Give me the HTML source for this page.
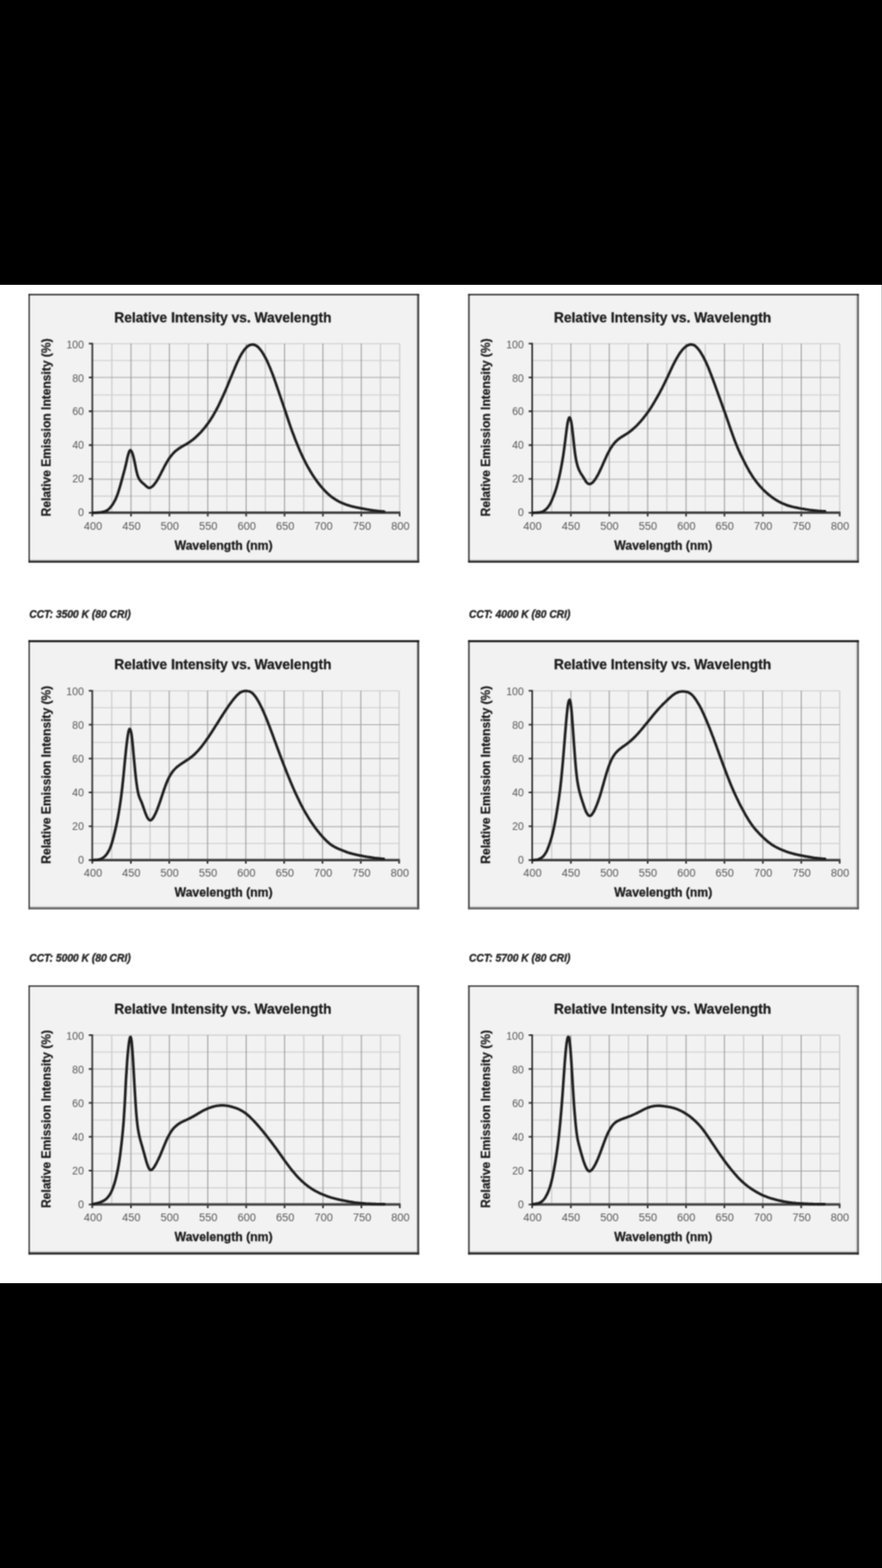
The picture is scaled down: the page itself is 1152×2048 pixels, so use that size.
<!DOCTYPE html>
<html lang="en">
<head>
<meta charset="utf-8">
<title>Relative Intensity vs. Wavelength</title>
<style>
html,body{margin:0;padding:0;background:#000;}
body{width:1152px;height:2048px;position:relative;overflow:hidden;font-family:"Liberation Sans",sans-serif;}
#sheet{position:absolute;left:0;top:372px;width:1152px;height:1304px;background:#fff;overflow:hidden;}
#sheet svg{position:absolute;left:0;top:0;display:block;}
#edge{position:absolute;right:0;top:0;width:1px;height:100%;background:#c8c8c8;}
text{font-family:"Liberation Sans",sans-serif;}
.tk{font-size:14px;fill:#5a5a5a;}
.ti{font-size:18px;font-weight:bold;fill:#1c1c1c;stroke:#1c1c1c;stroke-width:0.35px;}
.ax{font-size:16px;font-weight:bold;fill:#1c1c1c;stroke:#1c1c1c;stroke-width:0.35px;}
.ay{font-size:17.4px;font-weight:bold;fill:#1c1c1c;stroke:#1c1c1c;stroke-width:0.35px;}
.cap{font-size:14px;font-weight:bold;font-style:italic;fill:#262626;stroke:#262626;stroke-width:0.45px;}
</style>
</head>
<body>
<div id="sheet">
<svg width="1152" height="1304" viewBox="0 372 1152 1304">
<defs>
<filter id="soft" x="0" y="372" width="1152" height="1304" filterUnits="userSpaceOnUse" color-interpolation-filters="sRGB"><feConvolveMatrix order="3" kernelMatrix="1 2 1 2 4 2 1 2 1" edgeMode="duplicate" preserveAlpha="false"/></filter>
</defs>
<rect x="0" y="372" width="1152" height="1304" fill="#fff"/>
<g filter="url(#soft)">
<rect x="-5" y="367" width="1162" height="1314" fill="#fff"/>
<g id="chart1">
<rect x="37.20" y="383.90" width="510.15" height="351.05" fill="#f2f2f2"/>
<rect x="543.85" y="383.90" width="1.5" height="351.05" fill="#c6c6c6"/>
<rect x="37.20" y="730.85" width="510.15" height="1.5" fill="#c6c6c6"/>
<rect x="37.30" y="383.90" width="1.7" height="351.05" fill="#303030"/>
<rect x="545.35" y="383.90" width="2.0" height="351.05" fill="#222"/>
<rect x="37.20" y="383.90" width="510.15" height="1.7" fill="#161616"/>
<rect x="37.20" y="732.35" width="510.15" height="2.6" fill="#262626"/>
<path d="M146.06,448.80V669.70M196.19,448.80V669.70M246.31,448.80V669.70M296.44,448.80V669.70M346.56,448.80V669.70M396.69,448.80V669.70M446.81,448.80V669.70M496.94,448.80V669.70M522.00,448.80V669.70" stroke="#c2c2c2" stroke-width="1.2" fill="none"/>
<path d="M120.60,448.80H522.00M120.60,470.89H522.00M120.60,515.97H522.00M120.60,559.55H522.00M120.60,603.43H522.00M120.60,648.01H522.00" stroke="#cecece" stroke-width="1.3" fill="none"/>
<path d="M171.12,448.80V669.70M221.25,448.80V669.70M271.38,448.80V669.70M321.50,448.80V669.70M371.62,448.80V669.70M421.75,448.80V669.70M471.88,448.80V669.70" stroke="#8c8c8c" stroke-width="1.05" fill="none"/>
<path d="M120.60,492.98H522.00M120.60,537.16H522.00M120.60,581.34H522.00M120.60,626.02H522.00" stroke="#9c9c9c" stroke-width="1.1" fill="none"/>
<path d="M120.60,447.80V670.90M116.00,448.80H120.60M116.00,492.98H120.60M116.00,537.16H120.60M116.00,581.34H120.60M116.00,625.52H120.60M116.00,669.70H120.60M120.60,669.70V674.40M171.12,669.70V674.40M221.25,669.70V674.40M271.38,669.70V674.40M321.50,669.70V674.40M371.62,669.70V674.40M421.75,669.70V674.40M471.88,669.70V674.40M522.00,669.70V674.40" stroke="#2a2a2a" stroke-width="2.1" fill="none"/>
<path d="M119.60,669.70H523.00" stroke="#404040" stroke-width="3.2" fill="none"/>
<path d="M121.0,669.7C121.3,669.7 122.0,669.7 122.5,669.7C123.0,669.7 123.5,669.7 124.0,669.6C124.5,669.6 125.0,669.6 125.5,669.6C126.0,669.5 126.5,669.5 127.0,669.5C127.5,669.5 128.0,669.4 128.5,669.4C129.0,669.4 129.5,669.3 130.0,669.3C130.5,669.2 131.0,669.2 131.5,669.1C132.0,669.1 132.5,669.0 133.0,668.9C133.5,668.8 134.0,668.8 134.5,668.7C135.0,668.6 135.5,668.4 136.0,668.3C136.5,668.2 137.0,668.0 137.5,667.8C138.0,667.6 138.5,667.4 139.0,667.1C139.5,666.8 140.0,666.5 140.5,666.2C141.0,665.8 141.6,665.4 142.1,664.9C142.6,664.5 143.1,663.9 143.6,663.4C144.1,662.8 144.6,662.3 145.1,661.6C145.6,661.0 146.1,660.4 146.6,659.6C147.1,658.9 147.6,658.1 148.1,657.3C148.6,656.4 149.1,655.6 149.6,654.6C150.1,653.7 150.6,652.8 151.1,651.7C151.6,650.6 152.1,649.5 152.6,648.2C153.1,646.9 153.6,645.5 154.1,644.0C154.6,642.5 155.1,641.0 155.6,639.3C156.1,637.7 156.6,636.0 157.1,634.3C157.6,632.5 158.1,630.7 158.6,628.8C159.1,627.0 159.6,625.1 160.1,623.3C160.6,621.4 161.1,619.6 161.6,617.7C162.1,615.9 162.6,614.1 163.1,612.1C163.6,610.2 164.1,608.1 164.6,606.0C165.1,603.8 165.6,601.4 166.1,599.2C166.6,597.1 167.1,595.0 167.6,593.3C168.1,591.6 168.6,590.0 169.1,589.1C169.6,588.2 170.1,587.8 170.6,588.0C171.1,588.2 171.6,589.1 172.1,590.1C172.6,591.1 173.1,592.4 173.6,594.1C174.1,595.7 174.6,597.9 175.1,600.0C175.6,602.2 176.1,604.7 176.6,607.2C177.1,609.6 177.6,612.4 178.1,614.6C178.6,616.8 179.1,618.8 179.6,620.5C180.1,622.1 180.6,623.4 181.2,624.5C181.7,625.6 182.2,626.3 182.7,627.1C183.2,627.8 183.7,628.3 184.2,628.8C184.7,629.4 185.2,629.8 185.7,630.3C186.2,630.7 186.7,631.1 187.2,631.6C187.7,632.0 188.2,632.5 188.7,632.9C189.2,633.4 189.7,633.9 190.2,634.4C190.7,634.8 191.2,635.3 191.7,635.7C192.2,636.1 192.7,636.5 193.2,636.7C193.7,637.0 194.2,637.2 194.7,637.2C195.2,637.3 195.7,637.2 196.2,637.0C196.7,636.9 197.2,636.6 197.7,636.3C198.2,636.0 198.7,635.6 199.2,635.1C199.7,634.7 200.2,634.2 200.7,633.6C201.2,633.1 201.7,632.5 202.2,631.8C202.7,631.2 203.2,630.5 203.7,629.7C204.2,629.0 204.7,628.2 205.2,627.4C205.7,626.6 206.2,625.7 206.7,624.8C207.2,623.9 207.7,623.0 208.2,622.1C208.7,621.2 209.2,620.2 209.7,619.3C210.2,618.3 210.7,617.3 211.2,616.3C211.7,615.3 212.2,614.3 212.7,613.4C213.2,612.4 213.7,611.4 214.2,610.4C214.7,609.5 215.2,608.5 215.7,607.6C216.2,606.7 216.7,605.7 217.2,604.9C217.7,604.0 218.2,603.1 218.7,602.3C219.2,601.5 219.7,600.7 220.2,599.9C220.7,599.1 221.2,598.4 221.8,597.7C222.3,597.0 222.8,596.3 223.3,595.6C223.8,595.0 224.3,594.4 224.8,593.8C225.3,593.2 225.8,592.6 226.3,592.1C226.8,591.5 227.3,591.0 227.8,590.6C228.3,590.1 228.8,589.6 229.3,589.2C229.8,588.8 230.3,588.4 230.8,588.0C231.3,587.6 231.8,587.2 232.3,586.8C232.8,586.5 233.3,586.1 233.8,585.8C234.3,585.4 234.8,585.1 235.3,584.8C235.8,584.5 236.3,584.2 236.8,583.8C237.3,583.5 237.8,583.2 238.3,583.0C238.8,582.7 239.3,582.4 239.8,582.1C240.3,581.8 240.8,581.5 241.3,581.2C241.8,581.0 242.3,580.7 242.8,580.4C243.3,580.1 243.8,579.8 244.3,579.5C244.8,579.2 245.3,578.9 245.8,578.6C246.3,578.3 246.8,578.0 247.3,577.6C247.8,577.3 248.3,576.9 248.8,576.6C249.3,576.2 249.8,575.8 250.3,575.5C250.8,575.1 251.3,574.7 251.8,574.3C252.3,573.9 252.8,573.5 253.3,573.1C253.8,572.6 254.3,572.2 254.8,571.8C255.3,571.3 255.8,570.9 256.3,570.4C256.8,570.0 257.3,569.5 257.8,569.0C258.3,568.5 258.8,568.0 259.3,567.5C259.8,567.0 260.3,566.5 260.8,566.0C261.3,565.4 261.9,564.9 262.4,564.4C262.9,563.8 263.4,563.3 263.9,562.7C264.4,562.1 264.9,561.5 265.4,560.9C265.9,560.3 266.4,559.7 266.9,559.1C267.4,558.5 267.9,557.9 268.4,557.2C268.9,556.6 269.4,556.0 269.9,555.3C270.4,554.6 270.9,554.0 271.4,553.3C271.9,552.6 272.4,551.9 272.9,551.2C273.4,550.5 273.9,549.7 274.4,549.0C274.9,548.2 275.4,547.5 275.9,546.7C276.4,545.9 276.9,545.1 277.4,544.3C277.9,543.5 278.4,542.7 278.9,541.8C279.4,541.0 279.9,540.1 280.4,539.2C280.9,538.4 281.4,537.4 281.9,536.5C282.4,535.6 282.9,534.6 283.4,533.7C283.9,532.7 284.4,531.7 284.9,530.7C285.4,529.7 285.9,528.7 286.4,527.7C286.9,526.6 287.4,525.6 287.9,524.5C288.4,523.5 288.9,522.4 289.4,521.3C289.9,520.2 290.4,519.1 290.9,518.0C291.4,516.9 291.9,515.8 292.4,514.7C292.9,513.6 293.4,512.4 293.9,511.3C294.4,510.2 294.9,509.0 295.4,507.8C295.9,506.7 296.4,505.5 296.9,504.3C297.4,503.1 297.9,501.9 298.4,500.7C298.9,499.4 299.4,498.2 299.9,497.0C300.4,495.7 300.9,494.5 301.4,493.3C302.0,492.0 302.5,490.8 303.0,489.6C303.5,488.3 304.0,487.1 304.5,485.9C305.0,484.7 305.5,483.5 306.0,482.3C306.5,481.1 307.0,479.9 307.5,478.7C308.0,477.6 308.5,476.4 309.0,475.3C309.5,474.2 310.0,473.1 310.5,472.0C311.0,470.9 311.5,469.9 312.0,468.9C312.5,467.8 313.0,466.8 313.5,465.9C314.0,464.9 314.5,464.0 315.0,463.2C315.5,462.3 316.0,461.4 316.5,460.7C317.0,459.9 317.5,459.1 318.0,458.4C318.5,457.7 319.0,457.0 319.5,456.4C320.0,455.8 320.5,455.2 321.0,454.7C321.5,454.2 322.0,453.7 322.5,453.2C323.0,452.8 323.5,452.4 324.0,452.0C324.5,451.7 325.0,451.4 325.5,451.1C326.0,450.9 326.5,450.6 327.0,450.5C327.5,450.3 328.0,450.2 328.5,450.1C329.0,450.0 329.5,450.0 330.0,450.0C330.5,450.0 331.0,450.1 331.5,450.2C332.0,450.3 332.5,450.4 333.0,450.6C333.5,450.8 334.0,451.1 334.5,451.4C335.0,451.7 335.5,452.0 336.0,452.4C336.5,452.8 337.0,453.3 337.5,453.8C338.0,454.3 338.5,454.8 339.0,455.4C339.5,456.0 340.0,456.6 340.5,457.3C341.0,458.0 341.5,458.7 342.1,459.4C342.6,460.2 343.1,461.0 343.6,461.8C344.1,462.6 344.6,463.5 345.1,464.4C345.6,465.3 346.1,466.2 346.6,467.2C347.1,468.1 347.6,469.1 348.1,470.1C348.6,471.1 349.1,472.2 349.6,473.3C350.1,474.3 350.6,475.4 351.1,476.6C351.6,477.7 352.1,478.9 352.6,480.1C353.1,481.3 353.6,482.5 354.1,483.8C354.6,485.0 355.1,486.3 355.6,487.7C356.1,489.0 356.6,490.3 357.1,491.7C357.6,493.1 358.1,494.5 358.6,495.9C359.1,497.3 359.6,498.8 360.1,500.2C360.6,501.7 361.1,503.1 361.6,504.6C362.1,506.1 362.6,507.5 363.1,509.0C363.6,510.4 364.1,511.9 364.6,513.4C365.1,514.8 365.6,516.3 366.1,517.7C366.6,519.2 367.1,520.7 367.6,522.1C368.1,523.6 368.6,525.1 369.1,526.5C369.6,528.0 370.1,529.5 370.6,531.0C371.1,532.4 371.6,533.9 372.1,535.4C372.6,536.9 373.1,538.4 373.6,539.9C374.1,541.4 374.6,542.9 375.1,544.4C375.6,545.9 376.1,547.4 376.6,548.9C377.1,550.4 377.6,551.9 378.1,553.3C378.6,554.8 379.1,556.2 379.6,557.7C380.1,559.1 380.6,560.6 381.1,562.0C381.6,563.4 382.2,564.7 382.7,566.1C383.2,567.5 383.7,568.8 384.2,570.2C384.7,571.5 385.2,572.8 385.7,574.1C386.2,575.4 386.7,576.7 387.2,577.9C387.7,579.2 388.2,580.4 388.7,581.6C389.2,582.8 389.7,584.0 390.2,585.2C390.7,586.4 391.2,587.5 391.7,588.7C392.2,589.8 392.7,591.0 393.2,592.1C393.7,593.2 394.2,594.3 394.7,595.3C395.2,596.4 395.7,597.5 396.2,598.5C396.7,599.5 397.2,600.6 397.7,601.6C398.2,602.6 398.7,603.5 399.2,604.5C399.7,605.5 400.2,606.4 400.7,607.3C401.2,608.3 401.7,609.2 402.2,610.1C402.7,611.0 403.2,611.9 403.7,612.7C404.2,613.6 404.7,614.5 405.2,615.3C405.7,616.1 406.2,616.9 406.7,617.7C407.2,618.6 407.7,619.3 408.2,620.1C408.7,620.9 409.2,621.7 409.7,622.4C410.2,623.2 410.7,623.9 411.2,624.6C411.7,625.4 412.2,626.1 412.7,626.8C413.2,627.5 413.7,628.2 414.2,628.9C414.7,629.6 415.2,630.2 415.7,630.9C416.2,631.5 416.7,632.2 417.2,632.8C417.7,633.5 418.2,634.1 418.7,634.7C419.2,635.3 419.7,635.9 420.2,636.5C420.7,637.1 421.2,637.7 421.8,638.3C422.3,638.8 422.8,639.4 423.3,639.9C423.8,640.4 424.3,641.0 424.8,641.5C425.3,642.0 425.8,642.5 426.3,643.0C426.8,643.5 427.3,644.0 427.8,644.4C428.3,644.9 428.8,645.4 429.3,645.8C429.8,646.3 430.3,646.7 430.8,647.1C431.3,647.5 431.8,647.9 432.3,648.3C432.8,648.7 433.3,649.1 433.8,649.5C434.3,649.9 434.8,650.2 435.3,650.6C435.8,650.9 436.3,651.2 436.8,651.6C437.3,651.9 437.8,652.2 438.3,652.5C438.8,652.8 439.3,653.1 439.8,653.4C440.3,653.7 440.8,654.0 441.3,654.3C441.8,654.6 442.3,654.8 442.8,655.1C443.3,655.4 443.8,655.6 444.3,655.9C444.8,656.1 445.3,656.3 445.8,656.6C446.3,656.8 446.8,657.0 447.3,657.2C447.8,657.4 448.3,657.6 448.8,657.8C449.3,658.0 449.8,658.2 450.3,658.4C450.8,658.6 451.3,658.8 451.8,659.0C452.3,659.1 452.8,659.3 453.3,659.5C453.8,659.7 454.3,659.8 454.8,660.0C455.3,660.1 455.8,660.3 456.3,660.4C456.8,660.6 457.3,660.7 457.8,660.9C458.3,661.0 458.8,661.1 459.3,661.3C459.8,661.4 460.3,661.5 460.8,661.7C461.3,661.8 461.9,661.9 462.4,662.0C462.9,662.1 463.4,662.3 463.9,662.4C464.4,662.5 464.9,662.6 465.4,662.7C465.9,662.8 466.4,662.9 466.9,663.0C467.4,663.1 467.9,663.2 468.4,663.3C468.9,663.4 469.4,663.5 469.9,663.6C470.4,663.7 470.9,663.8 471.4,663.9C471.9,664.0 472.4,664.1 472.9,664.2C473.4,664.3 473.9,664.3 474.4,664.4C474.9,664.5 475.4,664.6 475.9,664.7C476.4,664.8 476.9,664.9 477.4,665.0C477.9,665.1 478.4,665.2 478.9,665.3C479.4,665.4 479.9,665.5 480.4,665.6C480.9,665.6 481.4,665.7 481.9,665.8C482.4,665.9 482.9,666.0 483.4,666.1C483.9,666.1 484.4,666.2 484.9,666.3C485.4,666.4 485.9,666.4 486.4,666.5C486.9,666.6 487.4,666.6 487.9,666.7C488.4,666.8 488.9,666.9 489.4,666.9C489.9,667.0 490.4,667.0 490.9,667.1C491.4,667.2 491.9,667.2 492.4,667.3C492.9,667.4 493.4,667.4 493.9,667.5C494.4,667.5 494.9,667.6 495.4,667.6C495.9,667.7 496.4,667.7 496.9,667.8C497.4,667.8 497.9,667.9 498.4,667.9C498.9,667.9 499.4,668.0 499.9,668.0C500.4,668.0 501.1,668.1 501.4,668.1C501.8,668.1 501.9,668.1 501.9,668.1" stroke="#1e1e1e" stroke-width="3.45" fill="none" stroke-linejoin="round" stroke-linecap="round"/>
</g>
<g id="chart2">
<rect x="611.50" y="383.90" width="510.20" height="351.05" fill="#f2f2f2"/>
<rect x="1118.20" y="383.90" width="1.5" height="351.05" fill="#c6c6c6"/>
<rect x="611.50" y="730.85" width="510.20" height="1.5" fill="#c6c6c6"/>
<rect x="611.60" y="383.90" width="1.7" height="351.05" fill="#1c1c1c"/>
<rect x="1119.70" y="383.90" width="2.0" height="351.05" fill="#4a4a4a"/>
<rect x="611.50" y="383.90" width="510.20" height="1.7" fill="#161616"/>
<rect x="611.50" y="732.35" width="510.20" height="2.6" fill="#262626"/>
<path d="M720.58,448.80V669.70M770.73,448.80V669.70M820.88,448.80V669.70M871.03,448.80V669.70M921.17,448.80V669.70M971.33,448.80V669.70M1021.48,448.80V669.70M1071.62,448.80V669.70M1096.70,448.80V669.70" stroke="#c2c2c2" stroke-width="1.2" fill="none"/>
<path d="M695.10,448.80H1096.70M695.10,470.89H1096.70M695.10,515.97H1096.70M695.10,559.55H1096.70M695.10,603.43H1096.70M695.10,648.01H1096.70" stroke="#cecece" stroke-width="1.3" fill="none"/>
<path d="M745.65,448.80V669.70M795.80,448.80V669.70M845.95,448.80V669.70M896.10,448.80V669.70M946.25,448.80V669.70M996.40,448.80V669.70M1046.55,448.80V669.70" stroke="#8c8c8c" stroke-width="1.05" fill="none"/>
<path d="M695.10,492.98H1096.70M695.10,537.16H1096.70M695.10,581.34H1096.70M695.10,626.02H1096.70" stroke="#9c9c9c" stroke-width="1.1" fill="none"/>
<path d="M695.10,447.80V670.90M690.50,448.80H695.10M690.50,492.98H695.10M690.50,537.16H695.10M690.50,581.34H695.10M690.50,625.52H695.10M690.50,669.70H695.10M695.10,669.70V674.40M745.65,669.70V674.40M795.80,669.70V674.40M845.95,669.70V674.40M896.10,669.70V674.40M946.25,669.70V674.40M996.40,669.70V674.40M1046.55,669.70V674.40M1096.70,669.70V674.40" stroke="#2a2a2a" stroke-width="2.1" fill="none"/>
<path d="M694.10,669.70H1097.70" stroke="#404040" stroke-width="3.2" fill="none"/>
<path d="M695.5,669.7C695.8,669.7 696.5,669.7 697.0,669.7C697.5,669.7 698.0,669.7 698.5,669.6C699.0,669.6 699.5,669.6 700.0,669.6C700.5,669.6 701.0,669.5 701.5,669.5C702.0,669.5 702.5,669.4 703.0,669.4C703.5,669.4 704.0,669.3 704.5,669.2C705.0,669.2 705.5,669.1 706.0,669.0C706.5,668.9 707.0,668.7 707.5,668.6C708.0,668.4 708.5,668.2 709.0,668.0C709.5,667.8 710.0,667.5 710.5,667.2C711.0,666.9 711.5,666.5 712.0,666.1C712.6,665.7 713.1,665.3 713.6,664.8C714.1,664.3 714.6,663.8 715.1,663.2C715.6,662.6 716.1,662.0 716.6,661.2C717.1,660.5 717.6,659.7 718.1,658.8C718.6,658.0 719.1,657.0 719.6,656.0C720.1,654.9 720.6,653.8 721.1,652.7C721.6,651.5 722.1,650.3 722.6,649.0C723.1,647.8 723.6,646.5 724.1,645.1C724.6,643.7 725.1,642.3 725.6,640.7C726.1,639.2 726.6,637.6 727.1,635.9C727.6,634.2 728.1,632.3 728.6,630.4C729.1,628.4 729.6,626.3 730.1,624.2C730.6,622.0 731.1,619.8 731.6,617.4C732.1,615.0 732.6,612.5 733.1,609.8C733.6,607.2 734.1,604.4 734.6,601.4C735.1,598.5 735.6,595.3 736.1,591.9C736.6,588.4 737.1,584.6 737.6,580.8C738.1,576.9 738.6,572.8 739.1,568.9C739.6,565.0 740.1,560.5 740.6,557.2C741.1,553.9 741.6,550.9 742.1,549.0C742.6,547.0 743.1,545.6 743.6,545.3C744.1,545.0 744.6,545.7 745.1,547.3C745.6,548.8 746.2,551.1 746.7,554.4C747.2,557.6 747.7,562.4 748.2,566.8C748.7,571.2 749.2,576.3 749.7,580.6C750.2,585.0 750.7,589.3 751.2,592.9C751.7,596.4 752.2,599.2 752.7,601.8C753.2,604.3 753.7,606.2 754.2,608.0C754.7,609.8 755.2,611.1 755.7,612.3C756.2,613.6 756.7,614.6 757.2,615.6C757.7,616.7 758.2,617.5 758.7,618.4C759.2,619.2 759.7,620.0 760.2,620.7C760.7,621.5 761.2,622.2 761.7,623.0C762.2,623.8 762.7,624.6 763.2,625.5C763.7,626.3 764.2,627.2 764.7,628.0C765.2,628.8 765.7,629.5 766.2,630.1C766.7,630.6 767.2,631.1 767.7,631.4C768.2,631.7 768.7,631.9 769.2,632.0C769.7,632.2 770.2,632.2 770.7,632.1C771.2,632.0 771.7,631.9 772.2,631.6C772.7,631.3 773.2,630.9 773.7,630.5C774.2,630.1 774.7,629.5 775.2,629.0C775.7,628.4 776.2,627.7 776.7,627.1C777.2,626.4 777.7,625.6 778.2,624.8C778.7,624.0 779.3,623.1 779.8,622.2C780.3,621.3 780.8,620.4 781.3,619.5C781.8,618.5 782.3,617.5 782.8,616.5C783.3,615.5 783.8,614.4 784.3,613.3C784.8,612.3 785.3,611.2 785.8,610.1C786.3,609.0 786.8,607.8 787.3,606.7C787.8,605.6 788.3,604.4 788.8,603.3C789.3,602.2 789.8,601.1 790.3,600.0C790.8,598.9 791.3,597.8 791.8,596.7C792.3,595.6 792.8,594.6 793.3,593.6C793.8,592.5 794.3,591.5 794.8,590.6C795.3,589.6 795.8,588.7 796.3,587.8C796.8,586.9 797.3,586.0 797.8,585.2C798.3,584.4 798.8,583.6 799.3,582.9C799.8,582.1 800.3,581.4 800.8,580.8C801.3,580.1 801.8,579.5 802.3,578.9C802.8,578.3 803.3,577.8 803.8,577.2C804.3,576.7 804.8,576.2 805.3,575.8C805.8,575.3 806.3,574.9 806.8,574.4C807.3,574.0 807.8,573.6 808.3,573.2C808.8,572.9 809.3,572.5 809.8,572.1C810.3,571.8 810.8,571.4 811.3,571.1C811.8,570.7 812.3,570.4 812.9,570.1C813.4,569.8 813.9,569.5 814.4,569.2C814.9,568.8 815.4,568.5 815.9,568.2C816.4,567.9 816.9,567.6 817.4,567.3C817.9,567.0 818.4,566.7 818.9,566.3C819.4,566.0 819.9,565.7 820.4,565.3C820.9,565.0 821.4,564.7 821.9,564.3C822.4,563.9 822.9,563.6 823.4,563.2C823.9,562.8 824.4,562.4 824.9,562.0C825.4,561.6 825.9,561.1 826.4,560.7C826.9,560.3 827.4,559.8 827.9,559.4C828.4,558.9 828.9,558.5 829.4,558.0C829.9,557.5 830.4,557.1 830.9,556.6C831.4,556.1 831.9,555.6 832.4,555.1C832.9,554.5 833.4,554.0 833.9,553.5C834.4,553.0 834.9,552.4 835.4,551.9C835.9,551.3 836.4,550.7 836.9,550.2C837.4,549.6 837.9,549.0 838.4,548.4C838.9,547.8 839.4,547.2 839.9,546.6C840.4,546.0 840.9,545.3 841.4,544.7C841.9,544.1 842.4,543.4 842.9,542.8C843.4,542.1 843.9,541.4 844.4,540.8C844.9,540.1 845.4,539.4 846.0,538.7C846.5,538.0 847.0,537.2 847.5,536.5C848.0,535.8 848.5,535.0 849.0,534.3C849.5,533.5 850.0,532.7 850.5,532.0C851.0,531.2 851.5,530.4 852.0,529.6C852.5,528.8 853.0,527.9 853.5,527.1C854.0,526.3 854.5,525.5 855.0,524.6C855.5,523.8 856.0,522.9 856.5,522.0C857.0,521.2 857.5,520.3 858.0,519.4C858.5,518.5 859.0,517.6 859.5,516.7C860.0,515.8 860.5,514.9 861.0,514.0C861.5,513.1 862.0,512.2 862.5,511.2C863.0,510.3 863.5,509.3 864.0,508.4C864.5,507.4 865.0,506.4 865.5,505.4C866.0,504.5 866.5,503.5 867.0,502.5C867.5,501.5 868.0,500.5 868.5,499.4C869.0,498.4 869.5,497.4 870.0,496.3C870.5,495.3 871.0,494.2 871.5,493.2C872.0,492.1 872.5,491.0 873.0,490.0C873.5,488.9 874.0,487.8 874.5,486.7C875.0,485.6 875.5,484.5 876.0,483.5C876.5,482.4 877.0,481.3 877.5,480.2C878.0,479.2 878.5,478.1 879.0,477.1C879.6,476.1 880.1,475.0 880.6,474.1C881.1,473.1 881.6,472.1 882.1,471.2C882.6,470.2 883.1,469.3 883.6,468.4C884.1,467.5 884.6,466.6 885.1,465.8C885.6,465.0 886.1,464.2 886.6,463.4C887.1,462.6 887.6,461.8 888.1,461.1C888.6,460.4 889.1,459.7 889.6,459.1C890.1,458.4 890.6,457.8 891.1,457.2C891.6,456.6 892.1,456.0 892.6,455.5C893.1,455.0 893.6,454.5 894.1,454.0C894.6,453.6 895.1,453.2 895.6,452.8C896.1,452.4 896.6,452.1 897.1,451.7C897.6,451.4 898.1,451.2 898.6,450.9C899.1,450.7 899.6,450.5 900.1,450.3C900.6,450.2 901.1,450.1 901.6,450.0C902.1,449.9 902.6,449.9 903.1,449.9C903.6,450.0 904.1,450.0 904.6,450.2C905.1,450.3 905.6,450.5 906.1,450.7C906.6,450.9 907.1,451.2 907.6,451.6C908.1,451.9 908.6,452.3 909.1,452.8C909.6,453.2 910.1,453.7 910.6,454.3C911.1,454.8 911.6,455.4 912.1,456.1C912.6,456.7 913.2,457.4 913.7,458.1C914.2,458.8 914.7,459.6 915.2,460.3C915.7,461.1 916.2,461.9 916.7,462.8C917.2,463.6 917.7,464.5 918.2,465.4C918.7,466.3 919.2,467.3 919.7,468.3C920.2,469.2 920.7,470.2 921.2,471.3C921.7,472.3 922.2,473.4 922.7,474.5C923.2,475.6 923.7,476.8 924.2,477.9C924.7,479.1 925.2,480.3 925.7,481.5C926.2,482.7 926.7,484.0 927.2,485.3C927.7,486.5 928.2,487.8 928.7,489.1C929.2,490.4 929.7,491.7 930.2,493.1C930.7,494.4 931.2,495.8 931.7,497.1C932.2,498.5 932.7,499.8 933.2,501.2C933.7,502.6 934.2,504.0 934.7,505.3C935.2,506.7 935.7,508.1 936.2,509.5C936.7,510.9 937.2,512.3 937.7,513.7C938.2,515.0 938.7,516.4 939.2,517.8C939.7,519.2 940.2,520.6 940.7,522.0C941.2,523.4 941.7,524.8 942.2,526.1C942.7,527.5 943.2,528.9 943.7,530.3C944.2,531.7 944.7,533.1 945.2,534.6C945.7,536.0 946.3,537.4 946.8,538.8C947.3,540.3 947.8,541.7 948.3,543.1C948.8,544.6 949.3,546.0 949.8,547.5C950.3,548.9 950.8,550.4 951.3,551.8C951.8,553.3 952.3,554.7 952.8,556.2C953.3,557.6 953.8,559.1 954.3,560.5C954.8,561.9 955.3,563.4 955.8,564.8C956.3,566.2 956.8,567.6 957.3,569.0C957.8,570.4 958.3,571.8 958.8,573.1C959.3,574.5 959.8,575.8 960.3,577.1C960.8,578.4 961.3,579.7 961.8,580.9C962.3,582.1 962.8,583.4 963.3,584.5C963.8,585.7 964.3,586.9 964.8,588.0C965.3,589.1 965.8,590.2 966.3,591.3C966.8,592.4 967.3,593.5 967.8,594.5C968.3,595.6 968.8,596.6 969.3,597.6C969.8,598.6 970.3,599.6 970.8,600.6C971.3,601.6 971.8,602.6 972.3,603.6C972.8,604.6 973.3,605.5 973.8,606.5C974.3,607.5 974.8,608.4 975.3,609.4C975.8,610.3 976.3,611.2 976.8,612.1C977.3,613.1 977.8,614.0 978.3,614.8C978.8,615.7 979.3,616.6 979.9,617.4C980.4,618.3 980.9,619.1 981.4,619.9C981.9,620.7 982.4,621.5 982.9,622.3C983.4,623.0 983.9,623.8 984.4,624.5C984.9,625.2 985.4,625.9 985.9,626.6C986.4,627.3 986.9,628.0 987.4,628.7C987.9,629.3 988.4,629.9 988.9,630.6C989.4,631.2 989.9,631.8 990.4,632.4C990.9,633.0 991.4,633.6 991.9,634.2C992.4,634.8 992.9,635.3 993.4,635.9C993.9,636.4 994.4,637.0 994.9,637.5C995.4,638.0 995.9,638.5 996.4,639.1C996.9,639.6 997.4,640.1 997.9,640.6C998.4,641.0 998.9,641.5 999.4,642.0C999.9,642.5 1000.4,642.9 1000.9,643.4C1001.4,643.8 1001.9,644.3 1002.4,644.7C1002.9,645.1 1003.4,645.6 1003.9,646.0C1004.4,646.4 1004.9,646.8 1005.4,647.2C1005.9,647.6 1006.4,648.0 1006.9,648.4C1007.4,648.8 1007.9,649.1 1008.4,649.5C1008.9,649.9 1009.4,650.2 1009.9,650.6C1010.4,650.9 1010.9,651.3 1011.4,651.6C1011.9,651.9 1012.4,652.3 1012.9,652.6C1013.5,652.9 1014.0,653.2 1014.5,653.5C1015.0,653.8 1015.5,654.1 1016.0,654.4C1016.5,654.7 1017.0,655.0 1017.5,655.2C1018.0,655.5 1018.5,655.8 1019.0,656.0C1019.5,656.3 1020.0,656.5 1020.5,656.8C1021.0,657.0 1021.5,657.2 1022.0,657.5C1022.5,657.7 1023.0,657.9 1023.5,658.1C1024.0,658.3 1024.5,658.5 1025.0,658.7C1025.5,658.9 1026.0,659.1 1026.5,659.3C1027.0,659.5 1027.5,659.7 1028.0,659.8C1028.5,660.0 1029.0,660.2 1029.5,660.3C1030.0,660.5 1030.5,660.7 1031.0,660.8C1031.5,661.0 1032.0,661.1 1032.5,661.2C1033.0,661.4 1033.5,661.5 1034.0,661.7C1034.5,661.8 1035.0,661.9 1035.5,662.0C1036.0,662.2 1036.5,662.3 1037.0,662.4C1037.5,662.5 1038.0,662.6 1038.5,662.7C1039.0,662.8 1039.5,662.9 1040.0,663.0C1040.5,663.1 1041.0,663.2 1041.5,663.3C1042.0,663.4 1042.5,663.5 1043.0,663.6C1043.5,663.7 1044.0,663.8 1044.5,663.9C1045.0,663.9 1045.5,664.0 1046.0,664.1C1046.6,664.2 1047.1,664.3 1047.6,664.4C1048.1,664.5 1048.6,664.6 1049.1,664.6C1049.6,664.7 1050.1,664.8 1050.6,664.9C1051.1,665.0 1051.6,665.1 1052.1,665.2C1052.6,665.2 1053.1,665.3 1053.6,665.4C1054.1,665.5 1054.6,665.6 1055.1,665.6C1055.6,665.7 1056.1,665.8 1056.6,665.9C1057.1,665.9 1057.6,666.0 1058.1,666.1C1058.6,666.1 1059.1,666.2 1059.6,666.3C1060.1,666.3 1060.6,666.4 1061.1,666.5C1061.6,666.5 1062.1,666.6 1062.6,666.6C1063.1,666.7 1063.6,666.8 1064.1,666.8C1064.6,666.9 1065.1,666.9 1065.6,667.0C1066.1,667.0 1066.6,667.1 1067.1,667.1C1067.6,667.2 1068.1,667.2 1068.6,667.3C1069.1,667.3 1069.6,667.3 1070.1,667.4C1070.6,667.4 1071.1,667.5 1071.6,667.5C1072.1,667.5 1072.6,667.6 1073.1,667.6C1073.6,667.6 1074.1,667.6 1074.6,667.7C1075.1,667.7 1075.6,667.7 1076.1,667.7C1076.6,667.7 1077.4,667.8 1077.6,667.8" stroke="#1e1e1e" stroke-width="3.45" fill="none" stroke-linejoin="round" stroke-linecap="round"/>
</g>
<g id="chart3">
<rect x="37.20" y="836.20" width="510.15" height="351.50" fill="#f2f2f2"/>
<rect x="543.85" y="836.20" width="1.5" height="351.50" fill="#c6c6c6"/>
<rect x="37.20" y="1183.80" width="510.15" height="1.5" fill="#c6c6c6"/>
<rect x="37.30" y="836.20" width="1.7" height="351.50" fill="#303030"/>
<rect x="545.35" y="836.20" width="2.0" height="351.50" fill="#222"/>
<rect x="37.20" y="836.20" width="510.15" height="2.5" fill="#101010"/>
<rect x="37.20" y="1185.30" width="510.15" height="2.4" fill="#585858"/>
<path d="M145.93,902.30V1123.40M195.97,902.30V1123.40M246.03,902.30V1123.40M296.07,902.30V1123.40M346.12,902.30V1123.40M396.17,902.30V1123.40M446.23,902.30V1123.40M496.27,902.30V1123.40M521.30,902.30V1123.40" stroke="#c2c2c2" stroke-width="1.2" fill="none"/>
<path d="M120.50,902.30H521.30M120.50,924.41H521.30M120.50,969.53H521.30M120.50,1013.15H521.30M120.50,1057.07H521.30M120.50,1101.69H521.30" stroke="#cecece" stroke-width="1.3" fill="none"/>
<path d="M170.95,902.30V1123.40M221.00,902.30V1123.40M271.05,902.30V1123.40M321.10,902.30V1123.40M371.15,902.30V1123.40M421.20,902.30V1123.40M471.25,902.30V1123.40" stroke="#8c8c8c" stroke-width="1.05" fill="none"/>
<path d="M120.50,946.52H521.30M120.50,990.74H521.30M120.50,1034.96H521.30M120.50,1079.68H521.30" stroke="#9c9c9c" stroke-width="1.1" fill="none"/>
<path d="M120.50,901.30V1124.60M115.90,902.30H120.50M115.90,946.52H120.50M115.90,990.74H120.50M115.90,1034.96H120.50M115.90,1079.18H120.50M115.90,1123.40H120.50M120.50,1123.40V1128.10M170.95,1123.40V1128.10M221.00,1123.40V1128.10M271.05,1123.40V1128.10M321.10,1123.40V1128.10M371.15,1123.40V1128.10M421.20,1123.40V1128.10M471.25,1123.40V1128.10M521.30,1123.40V1128.10" stroke="#2a2a2a" stroke-width="2.1" fill="none"/>
<path d="M119.50,1123.40H522.30" stroke="#404040" stroke-width="3.2" fill="none"/>
<path d="M120.9,1123.4C121.2,1123.4 121.9,1123.4 122.4,1123.4C122.9,1123.4 123.4,1123.3 123.9,1123.3C124.4,1123.3 124.9,1123.2 125.4,1123.2C125.9,1123.2 126.4,1123.1 126.9,1123.1C127.4,1123.0 127.9,1123.0 128.4,1122.9C128.9,1122.8 129.4,1122.6 129.9,1122.5C130.4,1122.4 130.9,1122.2 131.4,1122.0C131.9,1121.8 132.4,1121.6 132.9,1121.3C133.4,1121.1 133.9,1120.8 134.4,1120.5C134.9,1120.1 135.4,1119.8 135.9,1119.4C136.4,1118.9 136.9,1118.5 137.4,1118.0C137.9,1117.5 138.4,1116.9 138.9,1116.2C139.4,1115.6 139.9,1114.9 140.4,1114.2C140.9,1113.4 141.4,1112.6 141.9,1111.6C142.4,1110.7 142.9,1109.7 143.4,1108.6C143.9,1107.5 144.4,1106.3 144.9,1104.9C145.4,1103.5 145.9,1101.9 146.4,1100.3C146.9,1098.6 147.4,1096.7 147.9,1094.8C148.4,1092.9 148.9,1090.8 149.4,1088.8C149.9,1086.7 150.4,1084.7 150.9,1082.5C151.4,1080.4 151.9,1078.2 152.4,1075.8C152.9,1073.5 153.4,1071.0 153.9,1068.4C154.4,1065.7 154.9,1062.9 155.4,1059.8C155.9,1056.8 156.4,1053.5 156.9,1050.1C157.4,1046.7 157.9,1043.1 158.4,1039.2C158.9,1035.3 159.4,1031.3 159.9,1026.8C160.4,1022.3 160.9,1017.2 161.4,1012.1C161.9,1007.0 162.4,1001.2 162.9,996.1C163.4,991.0 163.9,986.0 164.4,981.3C164.9,976.7 165.4,972.1 165.9,968.2C166.4,964.3 166.9,960.6 167.4,958.0C167.9,955.4 168.4,953.3 168.9,952.6C169.4,951.8 169.9,952.0 170.4,953.4C170.9,954.7 171.5,957.1 172.0,960.6C172.5,964.2 173.0,969.6 173.5,974.7C174.0,979.8 174.5,985.9 175.0,991.3C175.5,996.6 176.0,1002.1 176.5,1007.0C177.0,1011.9 177.5,1016.5 178.0,1020.4C178.5,1024.4 179.0,1027.8 179.5,1030.8C180.0,1033.7 180.5,1036.0 181.0,1038.0C181.5,1039.9 182.0,1041.1 182.5,1042.4C183.0,1043.7 183.5,1044.6 184.0,1045.8C184.5,1046.9 185.0,1048.0 185.5,1049.3C186.0,1050.6 186.5,1052.1 187.0,1053.6C187.5,1055.0 188.0,1056.6 188.5,1058.0C189.0,1059.5 189.5,1060.9 190.0,1062.2C190.5,1063.5 191.0,1064.8 191.5,1065.9C192.0,1067.0 192.5,1068.0 193.0,1068.8C193.5,1069.5 194.0,1070.2 194.5,1070.6C195.0,1071.1 195.5,1071.3 196.0,1071.4C196.5,1071.4 197.0,1071.3 197.5,1071.0C198.0,1070.7 198.5,1070.2 199.0,1069.6C199.5,1069.0 200.0,1068.3 200.5,1067.5C201.0,1066.7 201.5,1065.8 202.0,1064.8C202.5,1063.8 203.0,1062.8 203.5,1061.6C204.0,1060.5 204.5,1059.3 205.0,1058.1C205.5,1056.8 206.0,1055.5 206.5,1054.2C207.0,1052.9 207.5,1051.5 208.0,1050.0C208.5,1048.6 209.0,1047.1 209.5,1045.6C210.0,1044.1 210.5,1042.6 211.0,1041.1C211.5,1039.6 212.0,1038.1 212.5,1036.6C213.0,1035.1 213.5,1033.6 214.0,1032.1C214.5,1030.7 215.0,1029.2 215.5,1027.9C216.0,1026.5 216.5,1025.2 217.0,1023.9C217.5,1022.6 218.0,1021.4 218.5,1020.3C219.0,1019.1 219.5,1018.1 220.0,1017.0C220.5,1016.0 221.0,1015.1 221.5,1014.1C222.0,1013.2 222.5,1012.4 223.0,1011.5C223.5,1010.7 224.0,1010.0 224.5,1009.3C225.0,1008.5 225.5,1007.9 226.0,1007.2C226.5,1006.6 227.0,1006.0 227.5,1005.5C228.0,1004.9 228.5,1004.4 229.0,1003.9C229.5,1003.4 230.0,1002.9 230.5,1002.4C231.0,1002.0 231.5,1001.6 232.0,1001.2C232.5,1000.7 233.0,1000.4 233.5,1000.0C234.0,999.6 234.5,999.2 235.0,998.9C235.5,998.5 236.0,998.2 236.5,997.8C237.0,997.5 237.5,997.2 238.0,996.8C238.5,996.5 239.0,996.2 239.5,995.8C240.0,995.5 240.5,995.2 241.0,994.9C241.5,994.5 242.0,994.2 242.5,993.9C243.0,993.6 243.5,993.3 244.0,992.9C244.5,992.6 245.0,992.3 245.5,991.9C246.0,991.6 246.5,991.3 247.0,990.9C247.5,990.6 248.0,990.2 248.5,989.8C249.0,989.5 249.5,989.1 250.0,988.7C250.5,988.3 251.0,987.9 251.5,987.5C252.0,987.0 252.5,986.6 253.0,986.2C253.5,985.7 254.0,985.2 254.5,984.8C255.0,984.3 255.5,983.8 256.0,983.3C256.5,982.8 257.0,982.3 257.5,981.7C258.0,981.2 258.5,980.7 259.0,980.1C259.5,979.6 260.0,979.0 260.5,978.4C261.0,977.8 261.5,977.2 262.0,976.6C262.5,976.0 263.0,975.4 263.5,974.8C264.0,974.1 264.5,973.5 265.0,972.8C265.5,972.2 266.0,971.5 266.5,970.8C267.0,970.1 267.5,969.4 268.0,968.7C268.5,968.0 269.0,967.3 269.5,966.6C270.0,965.9 270.5,965.1 271.1,964.4C271.6,963.7 272.1,962.9 272.6,962.2C273.1,961.4 273.6,960.7 274.1,959.9C274.6,959.2 275.1,958.4 275.6,957.6C276.1,956.8 276.6,956.1 277.1,955.3C277.6,954.5 278.1,953.7 278.6,952.9C279.1,952.2 279.6,951.4 280.1,950.6C280.6,949.8 281.1,949.0 281.6,948.2C282.1,947.4 282.6,946.6 283.1,945.8C283.6,945.0 284.1,944.2 284.6,943.5C285.1,942.7 285.6,941.9 286.1,941.1C286.6,940.3 287.1,939.5 287.6,938.7C288.1,937.9 288.6,937.1 289.1,936.3C289.6,935.6 290.1,934.8 290.6,934.0C291.1,933.2 291.6,932.5 292.1,931.7C292.6,930.9 293.1,930.2 293.6,929.4C294.1,928.6 294.6,927.9 295.1,927.1C295.6,926.4 296.1,925.6 296.6,924.9C297.1,924.2 297.6,923.5 298.1,922.7C298.6,922.0 299.1,921.3 299.6,920.6C300.1,919.9 300.6,919.2 301.1,918.6C301.6,917.9 302.1,917.2 302.6,916.5C303.1,915.9 303.6,915.2 304.1,914.6C304.6,914.0 305.1,913.3 305.6,912.7C306.1,912.1 306.6,911.5 307.1,910.9C307.6,910.3 308.1,909.8 308.6,909.2C309.1,908.7 309.6,908.1 310.1,907.7C310.6,907.2 311.1,906.7 311.6,906.3C312.1,905.8 312.6,905.4 313.1,905.1C313.6,904.7 314.1,904.4 314.6,904.1C315.1,903.9 315.6,903.6 316.1,903.4C316.6,903.2 317.1,903.0 317.6,902.9C318.1,902.8 318.6,902.7 319.1,902.6C319.6,902.5 320.1,902.5 320.6,902.4C321.1,902.4 321.6,902.4 322.1,902.4C322.6,902.4 323.1,902.5 323.6,902.6C324.1,902.6 324.6,902.7 325.1,902.9C325.6,903.0 326.1,903.2 326.6,903.5C327.1,903.7 327.6,904.0 328.1,904.3C328.6,904.6 329.1,905.0 329.6,905.4C330.1,905.8 330.6,906.3 331.1,906.8C331.6,907.4 332.1,908.0 332.6,908.6C333.1,909.2 333.6,909.9 334.1,910.6C334.6,911.3 335.1,912.1 335.6,912.9C336.1,913.7 336.6,914.5 337.1,915.4C337.6,916.2 338.1,917.1 338.6,918.1C339.1,919.0 339.6,919.9 340.1,920.9C340.6,921.9 341.1,923.0 341.6,924.0C342.1,925.0 342.6,926.1 343.1,927.2C343.6,928.3 344.1,929.5 344.6,930.6C345.1,931.7 345.6,932.9 346.1,934.1C346.6,935.3 347.1,936.5 347.6,937.7C348.1,939.0 348.6,940.2 349.1,941.5C349.6,942.7 350.1,944.0 350.6,945.3C351.1,946.6 351.6,947.9 352.1,949.2C352.6,950.5 353.1,951.8 353.6,953.1C354.1,954.5 354.6,955.8 355.1,957.2C355.6,958.5 356.1,959.8 356.6,961.2C357.1,962.6 357.6,963.9 358.1,965.3C358.6,966.6 359.1,968.0 359.6,969.4C360.1,970.8 360.6,972.1 361.1,973.5C361.6,974.9 362.1,976.2 362.6,977.6C363.1,979.0 363.6,980.3 364.1,981.7C364.6,983.0 365.1,984.4 365.6,985.7C366.1,987.1 366.6,988.4 367.1,989.7C367.6,991.1 368.1,992.4 368.6,993.7C369.1,995.0 369.6,996.4 370.1,997.7C370.6,999.0 371.1,1000.3 371.7,1001.6C372.2,1002.9 372.7,1004.2 373.2,1005.4C373.7,1006.7 374.2,1008.0 374.7,1009.3C375.2,1010.5 375.7,1011.8 376.2,1013.0C376.7,1014.3 377.2,1015.5 377.7,1016.7C378.2,1018.0 378.7,1019.2 379.2,1020.4C379.7,1021.6 380.2,1022.8 380.7,1023.9C381.2,1025.1 381.7,1026.3 382.2,1027.4C382.7,1028.6 383.2,1029.7 383.7,1030.9C384.2,1032.0 384.7,1033.1 385.2,1034.2C385.7,1035.3 386.2,1036.4 386.7,1037.5C387.2,1038.6 387.7,1039.6 388.2,1040.7C388.7,1041.8 389.2,1042.8 389.7,1043.8C390.2,1044.9 390.7,1045.9 391.2,1046.9C391.7,1048.0 392.2,1049.0 392.7,1049.9C393.2,1050.9 393.7,1051.9 394.2,1052.9C394.7,1053.8 395.2,1054.8 395.7,1055.7C396.2,1056.7 396.7,1057.6 397.2,1058.5C397.7,1059.4 398.2,1060.3 398.7,1061.1C399.2,1062.0 399.7,1062.9 400.2,1063.7C400.7,1064.6 401.2,1065.4 401.7,1066.2C402.2,1067.0 402.7,1067.8 403.2,1068.6C403.7,1069.4 404.2,1070.2 404.7,1071.0C405.2,1071.8 405.7,1072.5 406.2,1073.3C406.7,1074.0 407.2,1074.7 407.7,1075.5C408.2,1076.2 408.7,1076.9 409.2,1077.6C409.7,1078.3 410.2,1079.0 410.7,1079.7C411.2,1080.4 411.7,1081.1 412.2,1081.8C412.7,1082.4 413.2,1083.1 413.7,1083.7C414.2,1084.4 414.7,1085.0 415.2,1085.7C415.7,1086.3 416.2,1086.9 416.7,1087.5C417.2,1088.1 417.7,1088.7 418.2,1089.3C418.7,1089.9 419.2,1090.5 419.7,1091.1C420.2,1091.6 420.7,1092.2 421.2,1092.8C421.7,1093.3 422.2,1093.9 422.7,1094.4C423.2,1094.9 423.7,1095.5 424.2,1096.0C424.7,1096.5 425.2,1097.0 425.7,1097.5C426.2,1098.0 426.7,1098.5 427.2,1099.0C427.7,1099.4 428.2,1099.9 428.7,1100.3C429.2,1100.8 429.7,1101.2 430.2,1101.6C430.7,1102.0 431.2,1102.4 431.7,1102.8C432.2,1103.2 432.7,1103.5 433.2,1103.9C433.7,1104.2 434.2,1104.5 434.7,1104.8C435.2,1105.1 435.7,1105.4 436.2,1105.7C436.7,1106.0 437.2,1106.3 437.7,1106.5C438.2,1106.8 438.7,1107.0 439.2,1107.3C439.7,1107.5 440.2,1107.8 440.7,1108.0C441.2,1108.2 441.7,1108.5 442.2,1108.7C442.7,1108.9 443.2,1109.1 443.7,1109.3C444.2,1109.5 444.7,1109.7 445.2,1109.9C445.7,1110.1 446.2,1110.3 446.7,1110.5C447.2,1110.7 447.7,1110.9 448.2,1111.1C448.7,1111.3 449.2,1111.5 449.7,1111.7C450.2,1111.9 450.7,1112.1 451.2,1112.3C451.7,1112.4 452.2,1112.6 452.7,1112.8C453.2,1113.0 453.7,1113.1 454.2,1113.3C454.7,1113.5 455.2,1113.6 455.7,1113.8C456.2,1114.0 456.7,1114.1 457.2,1114.3C457.7,1114.4 458.2,1114.6 458.7,1114.7C459.2,1114.9 459.7,1115.0 460.2,1115.1C460.7,1115.3 461.2,1115.4 461.7,1115.5C462.2,1115.6 462.7,1115.8 463.2,1115.9C463.7,1116.0 464.2,1116.1 464.7,1116.2C465.2,1116.4 465.7,1116.5 466.2,1116.6C466.7,1116.7 467.2,1116.8 467.7,1116.9C468.2,1117.0 468.7,1117.1 469.2,1117.2C469.7,1117.3 470.2,1117.4 470.7,1117.5C471.2,1117.6 471.8,1117.7 472.3,1117.8C472.8,1117.9 473.3,1118.0 473.8,1118.1C474.3,1118.2 474.8,1118.3 475.3,1118.4C475.8,1118.5 476.3,1118.6 476.8,1118.6C477.3,1118.7 477.8,1118.8 478.3,1118.9C478.8,1119.0 479.3,1119.1 479.8,1119.1C480.3,1119.2 480.8,1119.3 481.3,1119.4C481.8,1119.5 482.3,1119.5 482.8,1119.6C483.3,1119.7 483.8,1119.8 484.3,1119.8C484.8,1119.9 485.3,1120.0 485.8,1120.1C486.3,1120.1 486.8,1120.2 487.3,1120.3C487.8,1120.3 488.3,1120.4 488.8,1120.5C489.3,1120.5 489.8,1120.6 490.3,1120.7C490.8,1120.7 491.3,1120.8 491.8,1120.9C492.3,1120.9 492.8,1121.0 493.3,1121.0C493.8,1121.1 494.3,1121.2 494.8,1121.2C495.3,1121.3 495.8,1121.3 496.3,1121.4C496.8,1121.4 497.3,1121.5 497.8,1121.5C498.3,1121.5 498.8,1121.6 499.3,1121.6C499.8,1121.6 500.4,1121.7 500.8,1121.7C501.1,1121.7 501.2,1121.7 501.3,1121.7" stroke="#1e1e1e" stroke-width="3.45" fill="none" stroke-linejoin="round" stroke-linecap="round"/>
</g>
<g id="chart4">
<rect x="611.50" y="836.20" width="510.20" height="351.50" fill="#f2f2f2"/>
<rect x="1118.20" y="836.20" width="1.5" height="351.50" fill="#c6c6c6"/>
<rect x="611.50" y="1183.80" width="510.20" height="1.5" fill="#c6c6c6"/>
<rect x="611.60" y="836.20" width="1.7" height="351.50" fill="#1c1c1c"/>
<rect x="1119.70" y="836.20" width="2.0" height="351.50" fill="#4a4a4a"/>
<rect x="611.50" y="836.20" width="510.20" height="2.5" fill="#101010"/>
<rect x="611.50" y="1185.30" width="510.20" height="2.4" fill="#585858"/>
<path d="M720.58,902.30V1123.40M770.73,902.30V1123.40M820.88,902.30V1123.40M871.03,902.30V1123.40M921.17,902.30V1123.40M971.33,902.30V1123.40M1021.48,902.30V1123.40M1071.62,902.30V1123.40M1096.70,902.30V1123.40" stroke="#c2c2c2" stroke-width="1.2" fill="none"/>
<path d="M695.10,902.30H1096.70M695.10,924.41H1096.70M695.10,969.53H1096.70M695.10,1013.15H1096.70M695.10,1057.07H1096.70M695.10,1101.69H1096.70" stroke="#cecece" stroke-width="1.3" fill="none"/>
<path d="M745.65,902.30V1123.40M795.80,902.30V1123.40M845.95,902.30V1123.40M896.10,902.30V1123.40M946.25,902.30V1123.40M996.40,902.30V1123.40M1046.55,902.30V1123.40" stroke="#8c8c8c" stroke-width="1.05" fill="none"/>
<path d="M695.10,946.52H1096.70M695.10,990.74H1096.70M695.10,1034.96H1096.70M695.10,1079.68H1096.70" stroke="#9c9c9c" stroke-width="1.1" fill="none"/>
<path d="M695.10,901.30V1124.60M690.50,902.30H695.10M690.50,946.52H695.10M690.50,990.74H695.10M690.50,1034.96H695.10M690.50,1079.18H695.10M690.50,1123.40H695.10M695.10,1123.40V1128.10M745.65,1123.40V1128.10M795.80,1123.40V1128.10M845.95,1123.40V1128.10M896.10,1123.40V1128.10M946.25,1123.40V1128.10M996.40,1123.40V1128.10M1046.55,1123.40V1128.10M1096.70,1123.40V1128.10" stroke="#2a2a2a" stroke-width="2.1" fill="none"/>
<path d="M694.10,1123.40H1097.70" stroke="#404040" stroke-width="3.2" fill="none"/>
<path d="M695.5,1123.4C695.8,1123.4 696.5,1123.4 697.0,1123.4C697.5,1123.3 698.0,1123.3 698.5,1123.3C699.0,1123.2 699.5,1123.2 700.0,1123.1C700.5,1123.1 701.0,1123.0 701.5,1122.9C702.0,1122.8 702.5,1122.7 703.0,1122.5C703.5,1122.4 704.0,1122.1 704.5,1121.9C705.0,1121.7 705.5,1121.4 706.0,1121.1C706.5,1120.8 707.0,1120.5 707.5,1120.2C708.0,1119.8 708.5,1119.4 709.0,1118.9C709.5,1118.4 710.0,1117.9 710.5,1117.2C711.0,1116.6 711.5,1115.9 712.0,1115.2C712.6,1114.4 713.1,1113.6 713.6,1112.6C714.1,1111.6 714.6,1110.5 715.1,1109.3C715.6,1108.1 716.1,1106.8 716.6,1105.4C717.1,1104.1 717.6,1102.7 718.1,1101.2C718.6,1099.7 719.1,1098.1 719.6,1096.5C720.1,1094.8 720.6,1093.0 721.1,1091.1C721.6,1089.2 722.1,1087.1 722.6,1084.9C723.1,1082.7 723.6,1080.4 724.1,1077.9C724.6,1075.4 725.1,1072.8 725.6,1070.1C726.1,1067.3 726.6,1064.4 727.1,1061.4C727.6,1058.4 728.1,1055.2 728.6,1052.0C729.1,1048.8 729.6,1045.5 730.1,1042.0C730.6,1038.4 731.1,1034.8 731.6,1030.7C732.1,1026.6 732.6,1022.2 733.1,1017.3C733.6,1012.4 734.1,1006.9 734.6,1001.3C735.1,995.7 735.6,989.8 736.1,983.8C736.6,977.8 737.1,971.5 737.6,965.3C738.1,959.2 738.6,952.8 739.1,947.1C739.6,941.3 740.1,935.5 740.6,930.9C741.1,926.2 741.6,921.8 742.1,919.0C742.6,916.2 743.1,914.2 743.6,914.0C744.1,913.7 744.6,914.6 745.1,917.4C745.6,920.2 746.2,925.0 746.7,930.6C747.2,936.1 747.7,943.8 748.2,950.7C748.7,957.6 749.2,965.0 749.7,971.9C750.2,978.7 750.7,985.6 751.2,991.7C751.7,997.8 752.2,1003.7 752.7,1008.5C753.2,1013.3 753.7,1017.2 754.2,1020.6C754.7,1024.0 755.2,1026.4 755.7,1028.8C756.2,1031.2 756.7,1033.2 757.2,1035.2C757.7,1037.1 758.2,1038.8 758.7,1040.5C759.2,1042.2 759.7,1043.7 760.2,1045.2C760.7,1046.8 761.2,1048.3 761.7,1049.8C762.2,1051.3 762.7,1052.9 763.2,1054.4C763.7,1055.8 764.2,1057.3 764.7,1058.5C765.2,1059.7 765.7,1060.8 766.2,1061.7C766.7,1062.6 767.2,1063.3 767.7,1063.9C768.2,1064.6 768.7,1065.1 769.2,1065.3C769.7,1065.6 770.2,1065.7 770.7,1065.6C771.2,1065.6 771.7,1065.3 772.2,1064.8C772.7,1064.4 773.2,1063.8 773.7,1063.1C774.2,1062.4 774.7,1061.6 775.2,1060.7C775.7,1059.8 776.2,1058.8 776.7,1057.7C777.2,1056.6 777.7,1055.5 778.2,1054.3C778.7,1053.1 779.3,1051.8 779.8,1050.5C780.3,1049.2 780.8,1047.9 781.3,1046.4C781.8,1045.0 782.3,1043.5 782.8,1042.0C783.3,1040.5 783.8,1038.9 784.3,1037.2C784.8,1035.6 785.3,1033.9 785.8,1032.1C786.3,1030.4 786.8,1028.6 787.3,1026.8C787.8,1025.1 788.3,1023.2 788.8,1021.4C789.3,1019.7 789.8,1017.9 790.3,1016.1C790.8,1014.4 791.3,1012.7 791.8,1011.0C792.3,1009.3 792.8,1007.7 793.3,1006.2C793.8,1004.7 794.3,1003.2 794.8,1001.8C795.3,1000.4 795.8,999.1 796.3,997.8C796.8,996.6 797.3,995.4 797.8,994.2C798.3,993.1 798.8,992.1 799.3,991.1C799.8,990.1 800.3,989.2 800.8,988.4C801.3,987.5 801.8,986.7 802.3,986.0C802.8,985.3 803.3,984.6 803.8,984.0C804.3,983.4 804.8,982.8 805.3,982.3C805.8,981.7 806.3,981.2 806.8,980.7C807.3,980.3 807.8,979.8 808.3,979.4C808.8,978.9 809.3,978.5 809.8,978.1C810.3,977.7 810.8,977.3 811.3,976.9C811.8,976.6 812.3,976.2 812.9,975.8C813.4,975.5 813.9,975.1 814.4,974.7C814.9,974.4 815.4,974.0 815.9,973.7C816.4,973.3 816.9,973.0 817.4,972.6C817.9,972.2 818.4,971.9 818.9,971.5C819.4,971.1 819.9,970.8 820.4,970.4C820.9,970.0 821.4,969.6 821.9,969.2C822.4,968.8 822.9,968.3 823.4,967.9C823.9,967.5 824.4,967.0 824.9,966.6C825.4,966.1 825.9,965.7 826.4,965.2C826.9,964.7 827.4,964.2 827.9,963.7C828.4,963.3 828.9,962.8 829.4,962.3C829.9,961.7 830.4,961.2 830.9,960.7C831.4,960.2 831.9,959.6 832.4,959.1C832.9,958.6 833.4,958.0 833.9,957.5C834.4,956.9 834.9,956.3 835.4,955.7C835.9,955.2 836.4,954.6 836.9,954.0C837.4,953.4 837.9,952.8 838.4,952.2C838.9,951.6 839.4,951.0 839.9,950.4C840.4,949.8 840.9,949.2 841.4,948.6C841.9,948.0 842.4,947.3 842.9,946.7C843.4,946.1 843.9,945.5 844.4,944.9C844.9,944.2 845.4,943.6 846.0,943.0C846.5,942.4 847.0,941.8 847.5,941.1C848.0,940.5 848.5,939.9 849.0,939.3C849.5,938.6 850.0,938.0 850.5,937.4C851.0,936.8 851.5,936.2 852.0,935.5C852.5,934.9 853.0,934.3 853.5,933.7C854.0,933.1 854.5,932.5 855.0,931.9C855.5,931.3 856.0,930.7 856.5,930.1C857.0,929.5 857.5,928.9 858.0,928.3C858.5,927.8 859.0,927.2 859.5,926.7C860.0,926.1 860.5,925.6 861.0,925.0C861.5,924.5 862.0,923.9 862.5,923.4C863.0,922.9 863.5,922.4 864.0,921.9C864.5,921.4 865.0,920.8 865.5,920.3C866.0,919.8 866.5,919.3 867.0,918.9C867.5,918.4 868.0,917.9 868.5,917.4C869.0,916.9 869.5,916.4 870.0,915.9C870.5,915.5 871.0,915.0 871.5,914.5C872.0,914.0 872.5,913.5 873.0,913.1C873.5,912.6 874.0,912.1 874.5,911.7C875.0,911.2 875.5,910.7 876.0,910.3C876.5,909.8 877.0,909.4 877.5,909.0C878.0,908.6 878.5,908.2 879.0,907.8C879.6,907.4 880.1,907.0 880.6,906.7C881.1,906.4 881.6,906.0 882.1,905.7C882.6,905.5 883.1,905.2 883.6,904.9C884.1,904.7 884.6,904.5 885.1,904.3C885.6,904.1 886.1,903.9 886.6,903.8C887.1,903.6 887.6,903.5 888.1,903.4C888.6,903.3 889.1,903.2 889.6,903.2C890.1,903.1 890.6,903.1 891.1,903.1C891.6,903.0 892.1,903.0 892.6,903.1C893.1,903.1 893.6,903.1 894.1,903.2C894.6,903.2 895.1,903.3 895.6,903.4C896.1,903.5 896.6,903.6 897.1,903.7C897.6,903.9 898.1,904.0 898.6,904.2C899.1,904.4 899.6,904.6 900.1,904.9C900.6,905.2 901.1,905.5 901.6,905.8C902.1,906.1 902.6,906.5 903.1,907.0C903.6,907.4 904.1,907.9 904.6,908.4C905.1,908.9 905.6,909.5 906.1,910.1C906.6,910.7 907.1,911.4 907.6,912.1C908.1,912.8 908.6,913.5 909.1,914.2C909.6,915.0 910.1,915.8 910.6,916.6C911.1,917.4 911.6,918.2 912.1,919.1C912.6,920.0 913.2,920.9 913.7,921.8C914.2,922.7 914.7,923.7 915.2,924.6C915.7,925.6 916.2,926.6 916.7,927.6C917.2,928.7 917.7,929.7 918.2,930.8C918.7,931.9 919.2,933.0 919.7,934.1C920.2,935.2 920.7,936.4 921.2,937.5C921.7,938.7 922.2,939.8 922.7,941.0C923.2,942.2 923.7,943.4 924.2,944.6C924.7,945.8 925.2,947.1 925.7,948.3C926.2,949.5 926.7,950.8 927.2,952.0C927.7,953.3 928.2,954.6 928.7,955.9C929.2,957.2 929.7,958.4 930.2,959.8C930.7,961.1 931.2,962.4 931.7,963.7C932.2,965.1 932.7,966.4 933.2,967.8C933.7,969.1 934.2,970.5 934.7,971.8C935.2,973.2 935.7,974.6 936.2,976.0C936.7,977.3 937.2,978.7 937.7,980.1C938.2,981.5 938.7,982.9 939.2,984.3C939.7,985.6 940.2,987.0 940.7,988.4C941.2,989.8 941.7,991.2 942.2,992.5C942.7,993.9 943.2,995.3 943.7,996.7C944.2,998.0 944.7,999.4 945.2,1000.7C945.7,1002.1 946.3,1003.4 946.8,1004.8C947.3,1006.1 947.8,1007.5 948.3,1008.8C948.8,1010.1 949.3,1011.5 949.8,1012.8C950.3,1014.1 950.8,1015.4 951.3,1016.7C951.8,1017.9 952.3,1019.2 952.8,1020.5C953.3,1021.7 953.8,1023.0 954.3,1024.2C954.8,1025.4 955.3,1026.6 955.8,1027.8C956.3,1029.0 956.8,1030.1 957.3,1031.3C957.8,1032.4 958.3,1033.6 958.8,1034.7C959.3,1035.8 959.8,1036.9 960.3,1038.0C960.8,1039.1 961.3,1040.1 961.8,1041.2C962.3,1042.2 962.8,1043.3 963.3,1044.3C963.8,1045.4 964.3,1046.4 964.8,1047.4C965.3,1048.4 965.8,1049.4 966.3,1050.4C966.8,1051.4 967.3,1052.3 967.8,1053.3C968.3,1054.2 968.8,1055.2 969.3,1056.1C969.8,1057.1 970.3,1058.0 970.8,1058.9C971.3,1059.8 971.8,1060.8 972.3,1061.7C972.8,1062.6 973.3,1063.4 973.8,1064.3C974.3,1065.2 974.8,1066.1 975.3,1066.9C975.8,1067.8 976.3,1068.6 976.8,1069.5C977.3,1070.3 977.8,1071.1 978.3,1071.9C978.8,1072.7 979.3,1073.5 979.9,1074.2C980.4,1075.0 980.9,1075.7 981.4,1076.4C981.9,1077.1 982.4,1077.8 982.9,1078.5C983.4,1079.2 983.9,1079.8 984.4,1080.5C984.9,1081.1 985.4,1081.7 985.9,1082.3C986.4,1082.9 986.9,1083.5 987.4,1084.1C987.9,1084.7 988.4,1085.2 988.9,1085.8C989.4,1086.3 989.9,1086.9 990.4,1087.4C990.9,1087.9 991.4,1088.5 991.9,1089.0C992.4,1089.5 992.9,1090.0 993.4,1090.5C993.9,1091.0 994.4,1091.5 994.9,1092.0C995.4,1092.5 995.9,1093.0 996.4,1093.4C996.9,1093.9 997.4,1094.4 997.9,1094.9C998.4,1095.3 998.9,1095.8 999.4,1096.2C999.9,1096.7 1000.4,1097.1 1000.9,1097.6C1001.4,1098.0 1001.9,1098.4 1002.4,1098.8C1002.9,1099.3 1003.4,1099.7 1003.9,1100.1C1004.4,1100.5 1004.9,1100.8 1005.4,1101.2C1005.9,1101.6 1006.4,1102.0 1006.9,1102.3C1007.4,1102.7 1007.9,1103.0 1008.4,1103.3C1008.9,1103.7 1009.4,1104.0 1009.9,1104.3C1010.4,1104.6 1010.9,1104.9 1011.4,1105.2C1011.9,1105.5 1012.4,1105.8 1012.9,1106.0C1013.5,1106.3 1014.0,1106.6 1014.5,1106.9C1015.0,1107.1 1015.5,1107.4 1016.0,1107.6C1016.5,1107.9 1017.0,1108.1 1017.5,1108.4C1018.0,1108.6 1018.5,1108.8 1019.0,1109.1C1019.5,1109.3 1020.0,1109.5 1020.5,1109.7C1021.0,1109.9 1021.5,1110.1 1022.0,1110.3C1022.5,1110.5 1023.0,1110.7 1023.5,1110.9C1024.0,1111.1 1024.5,1111.3 1025.0,1111.5C1025.5,1111.7 1026.0,1111.9 1026.5,1112.1C1027.0,1112.2 1027.5,1112.4 1028.0,1112.6C1028.5,1112.8 1029.0,1112.9 1029.5,1113.1C1030.0,1113.3 1030.5,1113.4 1031.0,1113.6C1031.5,1113.7 1032.0,1113.9 1032.5,1114.0C1033.0,1114.2 1033.5,1114.3 1034.0,1114.5C1034.5,1114.6 1035.0,1114.8 1035.5,1114.9C1036.0,1115.0 1036.5,1115.2 1037.0,1115.3C1037.5,1115.4 1038.0,1115.5 1038.5,1115.7C1039.0,1115.8 1039.5,1115.9 1040.0,1116.0C1040.5,1116.1 1041.0,1116.3 1041.5,1116.4C1042.0,1116.5 1042.5,1116.6 1043.0,1116.7C1043.5,1116.8 1044.0,1116.9 1044.5,1117.0C1045.0,1117.1 1045.5,1117.2 1046.0,1117.3C1046.6,1117.4 1047.1,1117.5 1047.6,1117.6C1048.1,1117.7 1048.6,1117.8 1049.1,1117.9C1049.6,1118.0 1050.1,1118.1 1050.6,1118.2C1051.1,1118.3 1051.6,1118.4 1052.1,1118.5C1052.6,1118.6 1053.1,1118.7 1053.6,1118.8C1054.1,1118.9 1054.6,1118.9 1055.1,1119.0C1055.6,1119.1 1056.1,1119.2 1056.6,1119.3C1057.1,1119.4 1057.6,1119.4 1058.1,1119.5C1058.6,1119.6 1059.1,1119.7 1059.6,1119.8C1060.1,1119.8 1060.6,1119.9 1061.1,1120.0C1061.6,1120.0 1062.1,1120.1 1062.6,1120.2C1063.1,1120.2 1063.6,1120.3 1064.1,1120.4C1064.6,1120.4 1065.1,1120.5 1065.6,1120.6C1066.1,1120.6 1066.6,1120.7 1067.1,1120.8C1067.6,1120.8 1068.1,1120.9 1068.6,1120.9C1069.1,1121.0 1069.6,1121.1 1070.1,1121.1C1070.6,1121.2 1071.1,1121.2 1071.6,1121.3C1072.1,1121.3 1072.6,1121.4 1073.1,1121.4C1073.6,1121.5 1074.1,1121.5 1074.6,1121.6C1075.1,1121.6 1075.6,1121.6 1076.1,1121.7C1076.6,1121.7 1077.4,1121.7 1077.6,1121.7" stroke="#1e1e1e" stroke-width="3.45" fill="none" stroke-linejoin="round" stroke-linecap="round"/>
</g>
<g id="chart5">
<rect x="37.20" y="1287.00" width="510.15" height="351.60" fill="#f2f2f2"/>
<rect x="543.85" y="1287.00" width="1.5" height="351.60" fill="#c6c6c6"/>
<rect x="37.20" y="1634.30" width="510.15" height="1.5" fill="#c6c6c6"/>
<rect x="37.30" y="1287.00" width="1.7" height="351.60" fill="#303030"/>
<rect x="545.35" y="1287.00" width="2.0" height="351.60" fill="#222"/>
<rect x="37.20" y="1287.00" width="510.15" height="1.8" fill="#363636"/>
<rect x="37.20" y="1635.80" width="510.15" height="2.8" fill="#262626"/>
<path d="M145.98,1352.00V1573.20M196.14,1352.00V1573.20M246.31,1352.00V1573.20M296.47,1352.00V1573.20M346.63,1352.00V1573.20M396.79,1352.00V1573.20M446.96,1352.00V1573.20M497.12,1352.00V1573.20M522.20,1352.00V1573.20" stroke="#c2c2c2" stroke-width="1.2" fill="none"/>
<path d="M120.50,1352.00H522.20M120.50,1374.12H522.20M120.50,1419.26H522.20M120.50,1462.90H522.20M120.50,1506.84H522.20M120.50,1551.48H522.20" stroke="#cecece" stroke-width="1.3" fill="none"/>
<path d="M171.06,1352.00V1573.20M221.23,1352.00V1573.20M271.39,1352.00V1573.20M321.55,1352.00V1573.20M371.71,1352.00V1573.20M421.88,1352.00V1573.20M472.04,1352.00V1573.20" stroke="#8c8c8c" stroke-width="1.05" fill="none"/>
<path d="M120.50,1396.24H522.20M120.50,1440.48H522.20M120.50,1484.72H522.20M120.50,1529.46H522.20" stroke="#9c9c9c" stroke-width="1.1" fill="none"/>
<path d="M120.50,1351.00V1574.40M115.90,1352.00H120.50M115.90,1396.24H120.50M115.90,1440.48H120.50M115.90,1484.72H120.50M115.90,1528.96H120.50M115.90,1573.20H120.50M120.50,1573.20V1577.90M171.06,1573.20V1577.90M221.23,1573.20V1577.90M271.39,1573.20V1577.90M321.55,1573.20V1577.90M371.71,1573.20V1577.90M421.88,1573.20V1577.90M472.04,1573.20V1577.90M522.20,1573.20V1577.90" stroke="#2a2a2a" stroke-width="2.1" fill="none"/>
<path d="M119.50,1573.20H523.20" stroke="#404040" stroke-width="3.2" fill="none"/>
<path d="M120.9,1572.7C121.2,1572.7 121.9,1572.6 122.4,1572.5C122.9,1572.4 123.4,1572.3 123.9,1572.2C124.4,1572.1 124.9,1572.0 125.4,1571.9C125.9,1571.8 126.4,1571.6 126.9,1571.5C127.4,1571.3 127.9,1571.2 128.4,1571.1C128.9,1570.9 129.4,1570.8 129.9,1570.6C130.4,1570.4 130.9,1570.3 131.4,1570.1C131.9,1569.9 132.4,1569.7 132.9,1569.4C133.4,1569.2 133.9,1569.0 134.4,1568.7C134.9,1568.5 135.4,1568.2 135.9,1567.9C136.5,1567.6 137.0,1567.2 137.5,1566.9C138.0,1566.5 138.5,1566.1 139.0,1565.6C139.5,1565.2 140.0,1564.7 140.5,1564.1C141.0,1563.6 141.5,1563.0 142.0,1562.3C142.5,1561.7 143.0,1561.0 143.5,1560.2C144.0,1559.4 144.5,1558.5 145.0,1557.5C145.5,1556.5 146.0,1555.3 146.5,1554.1C147.0,1552.9 147.5,1551.6 148.0,1550.2C148.5,1548.8 149.0,1547.3 149.5,1545.7C150.0,1544.1 150.5,1542.3 151.0,1540.4C151.5,1538.5 152.0,1536.4 152.5,1534.2C153.0,1531.9 153.5,1529.6 154.0,1526.9C154.5,1524.3 155.0,1521.5 155.5,1518.3C156.0,1515.1 156.5,1511.6 157.0,1507.9C157.5,1504.1 158.0,1500.0 158.5,1495.6C159.0,1491.2 159.5,1486.6 160.0,1481.4C160.5,1476.2 161.0,1471.3 161.5,1464.5C162.0,1457.7 162.5,1449.7 163.0,1440.8C163.5,1431.8 164.0,1419.7 164.5,1410.8C165.0,1402.0 165.5,1394.5 166.0,1387.6C166.5,1380.8 167.0,1374.5 167.6,1369.6C168.1,1364.6 168.6,1360.5 169.1,1358.0C169.6,1355.5 170.1,1353.9 170.6,1354.6C171.1,1355.3 171.6,1357.5 172.1,1362.1C172.6,1366.7 173.1,1374.3 173.6,1382.0C174.1,1389.7 174.6,1399.6 175.1,1408.2C175.6,1416.8 176.1,1425.8 176.6,1433.7C177.1,1441.5 177.6,1449.2 178.1,1455.3C178.6,1461.4 179.1,1466.1 179.6,1470.1C180.1,1474.2 180.6,1476.8 181.1,1479.5C181.6,1482.2 182.1,1484.2 182.6,1486.3C183.1,1488.4 183.6,1490.1 184.1,1491.9C184.6,1493.7 185.1,1495.4 185.6,1497.1C186.1,1498.8 186.6,1500.6 187.1,1502.4C187.6,1504.2 188.1,1505.9 188.6,1507.7C189.1,1509.5 189.6,1511.4 190.1,1513.2C190.6,1515.0 191.1,1516.8 191.6,1518.5C192.1,1520.1 192.6,1521.7 193.1,1522.9C193.6,1524.2 194.1,1525.4 194.6,1526.2C195.1,1527.0 195.6,1527.6 196.1,1527.9C196.6,1528.2 197.1,1528.2 197.6,1528.0C198.2,1527.9 198.7,1527.5 199.2,1527.0C199.7,1526.6 200.2,1525.9 200.7,1525.2C201.2,1524.6 201.7,1523.8 202.2,1523.0C202.7,1522.2 203.2,1521.3 203.7,1520.3C204.2,1519.4 204.7,1518.5 205.2,1517.5C205.7,1516.5 206.2,1515.5 206.7,1514.4C207.2,1513.4 207.7,1512.3 208.2,1511.2C208.7,1510.1 209.2,1509.0 209.7,1507.8C210.2,1506.6 210.7,1505.4 211.2,1504.2C211.7,1503.0 212.2,1501.8 212.7,1500.6C213.2,1499.4 213.7,1498.1 214.2,1496.9C214.7,1495.7 215.2,1494.5 215.7,1493.3C216.2,1492.1 216.7,1490.9 217.2,1489.8C217.7,1488.7 218.2,1487.6 218.7,1486.6C219.2,1485.5 219.7,1484.5 220.2,1483.6C220.7,1482.6 221.2,1481.7 221.7,1480.8C222.2,1480.0 222.7,1479.2 223.2,1478.4C223.7,1477.6 224.2,1476.9 224.7,1476.2C225.2,1475.5 225.7,1474.9 226.2,1474.3C226.7,1473.7 227.2,1473.2 227.7,1472.6C228.2,1472.1 228.7,1471.6 229.3,1471.2C229.8,1470.7 230.3,1470.3 230.8,1469.9C231.3,1469.5 231.8,1469.1 232.3,1468.7C232.8,1468.3 233.3,1468.0 233.8,1467.7C234.3,1467.3 234.8,1467.0 235.3,1466.7C235.8,1466.4 236.3,1466.1 236.8,1465.8C237.3,1465.6 237.8,1465.3 238.3,1465.1C238.8,1464.8 239.3,1464.6 239.8,1464.3C240.3,1464.1 240.8,1463.9 241.3,1463.6C241.8,1463.4 242.3,1463.2 242.8,1463.0C243.3,1462.7 243.8,1462.5 244.3,1462.3C244.8,1462.1 245.3,1461.8 245.8,1461.6C246.3,1461.4 246.8,1461.1 247.3,1460.9C247.8,1460.6 248.3,1460.4 248.8,1460.1C249.3,1459.9 249.8,1459.6 250.3,1459.3C250.8,1459.1 251.3,1458.8 251.8,1458.5C252.3,1458.2 252.8,1458.0 253.3,1457.7C253.8,1457.4 254.3,1457.1 254.8,1456.8C255.3,1456.5 255.8,1456.2 256.3,1455.9C256.8,1455.6 257.3,1455.3 257.8,1455.0C258.3,1454.7 258.8,1454.4 259.3,1454.1C259.9,1453.8 260.4,1453.5 260.9,1453.2C261.4,1452.9 261.9,1452.6 262.4,1452.3C262.9,1452.0 263.4,1451.7 263.9,1451.5C264.4,1451.2 264.9,1450.9 265.4,1450.6C265.9,1450.4 266.4,1450.1 266.9,1449.8C267.4,1449.6 267.9,1449.3 268.4,1449.1C268.9,1448.9 269.4,1448.7 269.9,1448.4C270.4,1448.2 270.9,1448.0 271.4,1447.8C271.9,1447.6 272.4,1447.4 272.9,1447.2C273.4,1447.0 273.9,1446.8 274.4,1446.7C274.9,1446.5 275.4,1446.3 275.9,1446.2C276.4,1446.0 276.9,1445.9 277.4,1445.7C277.9,1445.6 278.4,1445.4 278.9,1445.3C279.4,1445.2 279.9,1445.0 280.4,1444.9C280.9,1444.8 281.4,1444.7 281.9,1444.6C282.4,1444.5 282.9,1444.4 283.4,1444.3C283.9,1444.2 284.4,1444.2 284.9,1444.1C285.4,1444.1 285.9,1444.0 286.4,1443.9C286.9,1443.9 287.4,1443.9 287.9,1443.8C288.4,1443.8 288.9,1443.8 289.4,1443.8C289.9,1443.8 290.4,1443.8 291.0,1443.8C291.5,1443.8 292.0,1443.8 292.5,1443.8C293.0,1443.8 293.5,1443.9 294.0,1443.9C294.5,1444.0 295.0,1444.0 295.5,1444.1C296.0,1444.2 296.5,1444.3 297.0,1444.3C297.5,1444.4 298.0,1444.5 298.5,1444.6C299.0,1444.7 299.5,1444.8 300.0,1444.9C300.5,1445.1 301.0,1445.2 301.5,1445.3C302.0,1445.4 302.5,1445.5 303.0,1445.7C303.5,1445.8 304.0,1445.9 304.5,1446.1C305.0,1446.2 305.5,1446.4 306.0,1446.5C306.5,1446.7 307.0,1446.9 307.5,1447.0C308.0,1447.2 308.5,1447.4 309.0,1447.6C309.5,1447.8 310.0,1448.0 310.5,1448.2C311.0,1448.4 311.5,1448.6 312.0,1448.8C312.5,1449.1 313.0,1449.3 313.5,1449.6C314.0,1449.8 314.5,1450.1 315.0,1450.4C315.5,1450.7 316.0,1450.9 316.5,1451.2C317.0,1451.6 317.5,1451.9 318.0,1452.2C318.5,1452.5 319.0,1452.9 319.5,1453.2C320.0,1453.6 320.5,1454.0 321.0,1454.3C321.6,1454.7 322.1,1455.1 322.6,1455.5C323.1,1456.0 323.6,1456.4 324.1,1456.8C324.6,1457.3 325.1,1457.7 325.6,1458.2C326.1,1458.6 326.6,1459.1 327.1,1459.6C327.6,1460.1 328.1,1460.6 328.6,1461.1C329.1,1461.6 329.6,1462.1 330.1,1462.6C330.6,1463.1 331.1,1463.7 331.6,1464.2C332.1,1464.7 332.6,1465.3 333.1,1465.8C333.6,1466.3 334.1,1466.9 334.6,1467.4C335.1,1468.0 335.6,1468.5 336.1,1469.1C336.6,1469.7 337.1,1470.2 337.6,1470.8C338.1,1471.4 338.6,1471.9 339.1,1472.5C339.6,1473.1 340.1,1473.7 340.6,1474.3C341.1,1474.9 341.6,1475.5 342.1,1476.1C342.6,1476.7 343.1,1477.3 343.6,1477.9C344.1,1478.5 344.6,1479.2 345.1,1479.8C345.6,1480.4 346.1,1481.0 346.6,1481.7C347.1,1482.3 347.6,1482.9 348.1,1483.6C348.6,1484.2 349.1,1484.9 349.6,1485.5C350.1,1486.2 350.6,1486.8 351.1,1487.5C351.6,1488.1 352.1,1488.8 352.7,1489.4C353.2,1490.1 353.7,1490.7 354.2,1491.4C354.7,1492.1 355.2,1492.7 355.7,1493.4C356.2,1494.1 356.7,1494.7 357.2,1495.4C357.7,1496.1 358.2,1496.8 358.7,1497.4C359.2,1498.1 359.7,1498.8 360.2,1499.5C360.7,1500.2 361.2,1500.9 361.7,1501.6C362.2,1502.3 362.7,1503.0 363.2,1503.7C363.7,1504.4 364.2,1505.1 364.7,1505.8C365.2,1506.5 365.7,1507.2 366.2,1507.9C366.7,1508.6 367.2,1509.3 367.7,1510.0C368.2,1510.8 368.7,1511.5 369.2,1512.2C369.7,1512.9 370.2,1513.6 370.7,1514.3C371.2,1515.0 371.7,1515.7 372.2,1516.4C372.7,1517.1 373.2,1517.8 373.7,1518.4C374.2,1519.1 374.7,1519.8 375.2,1520.5C375.7,1521.1 376.2,1521.8 376.7,1522.5C377.2,1523.1 377.7,1523.8 378.2,1524.5C378.7,1525.1 379.2,1525.8 379.7,1526.4C380.2,1527.1 380.7,1527.7 381.2,1528.3C381.7,1529.0 382.2,1529.6 382.7,1530.2C383.2,1530.8 383.8,1531.4 384.3,1532.0C384.8,1532.6 385.3,1533.2 385.8,1533.8C386.3,1534.4 386.8,1535.0 387.3,1535.5C387.8,1536.1 388.3,1536.6 388.8,1537.2C389.3,1537.7 389.8,1538.2 390.3,1538.7C390.8,1539.3 391.3,1539.8 391.8,1540.3C392.3,1540.8 392.8,1541.2 393.3,1541.7C393.8,1542.2 394.3,1542.7 394.8,1543.1C395.3,1543.6 395.8,1544.0 396.3,1544.5C396.8,1544.9 397.3,1545.3 397.8,1545.7C398.3,1546.2 398.8,1546.6 399.3,1547.0C399.8,1547.4 400.3,1547.8 400.8,1548.2C401.3,1548.5 401.8,1548.9 402.3,1549.3C402.8,1549.7 403.3,1550.0 403.8,1550.4C404.3,1550.7 404.8,1551.1 405.3,1551.4C405.8,1551.8 406.3,1552.1 406.8,1552.4C407.3,1552.8 407.8,1553.1 408.3,1553.4C408.8,1553.7 409.3,1554.0 409.8,1554.3C410.3,1554.6 410.8,1554.9 411.3,1555.2C411.8,1555.5 412.3,1555.8 412.8,1556.0C413.3,1556.3 413.8,1556.6 414.4,1556.8C414.9,1557.1 415.4,1557.4 415.9,1557.6C416.4,1557.8 416.9,1558.1 417.4,1558.3C417.9,1558.6 418.4,1558.8 418.9,1559.0C419.4,1559.2 419.9,1559.5 420.4,1559.7C420.9,1559.9 421.4,1560.1 421.9,1560.3C422.4,1560.5 422.9,1560.7 423.4,1560.9C423.9,1561.1 424.4,1561.3 424.9,1561.5C425.4,1561.7 425.9,1561.9 426.4,1562.0C426.9,1562.2 427.4,1562.4 427.9,1562.6C428.4,1562.8 428.9,1562.9 429.4,1563.1C429.9,1563.3 430.4,1563.4 430.9,1563.6C431.4,1563.7 431.9,1563.9 432.4,1564.1C432.9,1564.2 433.4,1564.4 433.9,1564.5C434.4,1564.7 434.9,1564.8 435.4,1564.9C435.9,1565.1 436.4,1565.2 436.9,1565.4C437.4,1565.5 437.9,1565.6 438.4,1565.7C438.9,1565.9 439.4,1566.0 439.9,1566.1C440.4,1566.2 440.9,1566.4 441.4,1566.5C441.9,1566.6 442.4,1566.7 442.9,1566.8C443.4,1567.0 443.9,1567.1 444.4,1567.2C444.9,1567.3 445.5,1567.4 446.0,1567.5C446.5,1567.6 447.0,1567.7 447.5,1567.8C448.0,1567.9 448.5,1568.0 449.0,1568.1C449.5,1568.2 450.0,1568.3 450.5,1568.4C451.0,1568.5 451.5,1568.6 452.0,1568.7C452.5,1568.8 453.0,1568.9 453.5,1569.0C454.0,1569.1 454.5,1569.2 455.0,1569.3C455.5,1569.4 456.0,1569.5 456.5,1569.6C457.0,1569.6 457.5,1569.7 458.0,1569.8C458.5,1569.9 459.0,1570.0 459.5,1570.0C460.0,1570.1 460.5,1570.2 461.0,1570.3C461.5,1570.3 462.0,1570.4 462.5,1570.5C463.0,1570.5 463.5,1570.6 464.0,1570.7C464.5,1570.7 465.0,1570.8 465.5,1570.9C466.0,1570.9 466.5,1571.0 467.0,1571.0C467.5,1571.1 468.0,1571.2 468.5,1571.2C469.0,1571.3 469.5,1571.3 470.0,1571.4C470.5,1571.4 471.0,1571.5 471.5,1571.5C472.0,1571.5 472.5,1571.6 473.0,1571.6C473.5,1571.7 474.0,1571.7 474.5,1571.7C475.0,1571.8 475.5,1571.8 476.1,1571.9C476.6,1571.9 477.1,1571.9 477.6,1572.0C478.1,1572.0 478.6,1572.0 479.1,1572.1C479.6,1572.1 480.1,1572.1 480.6,1572.1C481.1,1572.2 481.6,1572.2 482.1,1572.2C482.6,1572.3 483.1,1572.3 483.6,1572.3C484.1,1572.3 484.6,1572.3 485.1,1572.4C485.6,1572.4 486.1,1572.4 486.6,1572.4C487.1,1572.4 487.6,1572.5 488.1,1572.5C488.6,1572.5 489.1,1572.5 489.6,1572.5C490.1,1572.5 490.6,1572.6 491.1,1572.6C491.6,1572.6 492.1,1572.6 492.6,1572.6C493.1,1572.6 493.6,1572.6 494.1,1572.6C494.6,1572.7 495.1,1572.7 495.6,1572.7C496.1,1572.7 496.6,1572.7 497.1,1572.7C497.6,1572.7 498.1,1572.7 498.6,1572.7C499.1,1572.7 499.6,1572.7 500.1,1572.7C500.6,1572.7 501.3,1572.7 501.6,1572.7C502.0,1572.7 502.1,1572.7 502.1,1572.7" stroke="#1e1e1e" stroke-width="3.45" fill="none" stroke-linejoin="round" stroke-linecap="round"/>
</g>
<g id="chart6">
<rect x="611.50" y="1287.00" width="510.20" height="351.60" fill="#f2f2f2"/>
<rect x="1118.20" y="1287.00" width="1.5" height="351.60" fill="#c6c6c6"/>
<rect x="611.50" y="1634.30" width="510.20" height="1.5" fill="#c6c6c6"/>
<rect x="611.60" y="1287.00" width="1.7" height="351.60" fill="#1c1c1c"/>
<rect x="1119.70" y="1287.00" width="2.0" height="351.60" fill="#4a4a4a"/>
<rect x="611.50" y="1287.00" width="510.20" height="1.8" fill="#363636"/>
<rect x="611.50" y="1635.80" width="510.20" height="2.8" fill="#262626"/>
<path d="M720.57,1352.00V1573.20M770.71,1352.00V1573.20M820.84,1352.00V1573.20M870.98,1352.00V1573.20M921.12,1352.00V1573.20M971.26,1352.00V1573.20M1021.39,1352.00V1573.20M1071.53,1352.00V1573.20M1096.60,1352.00V1573.20" stroke="#c2c2c2" stroke-width="1.2" fill="none"/>
<path d="M695.10,1352.00H1096.60M695.10,1374.12H1096.60M695.10,1419.26H1096.60M695.10,1462.90H1096.60M695.10,1506.84H1096.60M695.10,1551.48H1096.60" stroke="#cecece" stroke-width="1.3" fill="none"/>
<path d="M745.64,1352.00V1573.20M795.77,1352.00V1573.20M845.91,1352.00V1573.20M896.05,1352.00V1573.20M946.19,1352.00V1573.20M996.32,1352.00V1573.20M1046.46,1352.00V1573.20" stroke="#8c8c8c" stroke-width="1.05" fill="none"/>
<path d="M695.10,1396.24H1096.60M695.10,1440.48H1096.60M695.10,1484.72H1096.60M695.10,1529.46H1096.60" stroke="#9c9c9c" stroke-width="1.1" fill="none"/>
<path d="M695.10,1351.00V1574.40M690.50,1352.00H695.10M690.50,1396.24H695.10M690.50,1440.48H695.10M690.50,1484.72H695.10M690.50,1528.96H695.10M690.50,1573.20H695.10M695.10,1573.20V1577.90M745.64,1573.20V1577.90M795.77,1573.20V1577.90M845.91,1573.20V1577.90M896.05,1573.20V1577.90M946.19,1573.20V1577.90M996.32,1573.20V1577.90M1046.46,1573.20V1577.90M1096.60,1573.20V1577.90" stroke="#2a2a2a" stroke-width="2.1" fill="none"/>
<path d="M694.10,1573.20H1097.60" stroke="#404040" stroke-width="3.2" fill="none"/>
<path d="M695.5,1572.7C695.8,1572.7 696.5,1572.7 697.0,1572.7C697.5,1572.7 698.0,1572.6 698.5,1572.5C699.0,1572.5 699.5,1572.4 700.0,1572.3C700.5,1572.2 701.0,1572.1 701.5,1572.0C702.0,1571.9 702.5,1571.8 703.0,1571.7C703.5,1571.5 704.0,1571.4 704.5,1571.2C705.0,1571.0 705.5,1570.8 706.0,1570.5C706.5,1570.2 707.0,1569.8 707.5,1569.4C708.0,1569.0 708.5,1568.6 709.0,1568.1C709.5,1567.6 710.0,1567.1 710.5,1566.5C711.0,1565.9 711.5,1565.2 712.0,1564.5C712.5,1563.7 713.0,1562.8 713.5,1561.8C714.1,1560.9 714.6,1559.9 715.1,1558.8C715.6,1557.7 716.1,1556.5 716.6,1555.2C717.1,1553.9 717.6,1552.5 718.1,1551.0C718.6,1549.5 719.1,1547.9 719.6,1546.0C720.1,1544.2 720.6,1542.1 721.1,1539.9C721.6,1537.7 722.1,1535.2 722.6,1532.6C723.1,1530.1 723.6,1527.5 724.1,1524.7C724.6,1521.9 725.1,1519.0 725.6,1515.9C726.1,1512.9 726.6,1509.7 727.1,1506.2C727.6,1502.8 728.1,1499.2 728.6,1495.2C729.1,1491.3 729.6,1487.2 730.1,1482.5C730.6,1477.9 731.1,1472.8 731.6,1467.5C732.1,1462.1 732.6,1456.5 733.1,1450.5C733.6,1444.5 734.1,1438.3 734.6,1431.5C735.1,1424.7 735.6,1417.0 736.1,1409.8C736.6,1402.7 737.1,1395.1 737.6,1388.6C738.1,1382.2 738.6,1376.0 739.1,1371.2C739.6,1366.3 740.1,1362.1 740.6,1359.3C741.1,1356.5 741.6,1354.6 742.1,1354.2C742.6,1353.9 743.1,1354.6 743.6,1357.4C744.1,1360.2 744.6,1365.1 745.1,1370.9C745.6,1376.7 746.1,1384.3 746.6,1392.1C747.1,1399.8 747.6,1409.3 748.1,1417.5C748.6,1425.6 749.1,1433.9 749.6,1441.1C750.1,1448.3 750.7,1454.9 751.2,1460.8C751.7,1466.6 752.2,1471.8 752.7,1476.1C753.2,1480.4 753.7,1483.8 754.2,1486.7C754.7,1489.6 755.2,1491.4 755.7,1493.5C756.2,1495.6 756.7,1497.3 757.2,1499.2C757.7,1501.1 758.2,1502.9 758.7,1504.7C759.2,1506.5 759.7,1508.2 760.2,1509.9C760.7,1511.6 761.2,1513.3 761.7,1514.9C762.2,1516.5 762.7,1518.0 763.2,1519.4C763.7,1520.8 764.2,1522.1 764.7,1523.3C765.2,1524.4 765.7,1525.4 766.2,1526.3C766.7,1527.2 767.2,1527.9 767.7,1528.5C768.2,1529.0 768.7,1529.4 769.2,1529.6C769.7,1529.8 770.2,1529.7 770.7,1529.6C771.2,1529.4 771.7,1529.1 772.2,1528.6C772.7,1528.2 773.2,1527.6 773.7,1527.0C774.2,1526.4 774.7,1525.6 775.2,1524.9C775.7,1524.1 776.2,1523.2 776.7,1522.3C777.2,1521.4 777.7,1520.5 778.2,1519.5C778.7,1518.5 779.2,1517.4 779.7,1516.3C780.2,1515.3 780.7,1514.1 781.2,1512.9C781.7,1511.7 782.2,1510.5 782.7,1509.2C783.2,1507.9 783.7,1506.6 784.2,1505.2C784.7,1503.9 785.2,1502.5 785.7,1501.1C786.2,1499.7 786.8,1498.2 787.3,1496.8C787.8,1495.4 788.3,1494.0 788.8,1492.7C789.3,1491.3 789.8,1489.9 790.3,1488.7C790.8,1487.4 791.3,1486.1 791.8,1484.9C792.3,1483.7 792.8,1482.5 793.3,1481.5C793.8,1480.4 794.3,1479.3 794.8,1478.3C795.3,1477.3 795.8,1476.4 796.3,1475.5C796.8,1474.6 797.3,1473.8 797.8,1473.0C798.3,1472.2 798.8,1471.5 799.3,1470.8C799.8,1470.1 800.3,1469.5 800.8,1468.9C801.3,1468.4 801.8,1467.9 802.3,1467.4C802.8,1466.9 803.3,1466.5 803.8,1466.1C804.3,1465.7 804.8,1465.4 805.3,1465.1C805.8,1464.7 806.3,1464.4 806.8,1464.2C807.3,1463.9 807.8,1463.7 808.3,1463.4C808.8,1463.2 809.3,1463.0 809.8,1462.7C810.3,1462.5 810.8,1462.3 811.3,1462.1C811.8,1461.9 812.3,1461.7 812.8,1461.5C813.3,1461.3 813.8,1461.1 814.3,1461.0C814.8,1460.8 815.3,1460.6 815.8,1460.4C816.3,1460.2 816.8,1460.0 817.3,1459.9C817.8,1459.7 818.3,1459.5 818.8,1459.3C819.3,1459.1 819.8,1458.9 820.3,1458.7C820.8,1458.6 821.3,1458.4 821.8,1458.2C822.3,1458.0 822.8,1457.8 823.4,1457.6C823.9,1457.4 824.4,1457.2 824.9,1457.0C825.4,1456.7 825.9,1456.5 826.4,1456.3C826.9,1456.1 827.4,1455.9 827.9,1455.7C828.4,1455.4 828.9,1455.2 829.4,1455.0C829.9,1454.7 830.4,1454.5 830.9,1454.3C831.4,1454.0 831.9,1453.8 832.4,1453.5C832.9,1453.3 833.4,1453.0 833.9,1452.8C834.4,1452.5 834.9,1452.2 835.4,1452.0C835.9,1451.7 836.4,1451.5 836.9,1451.2C837.4,1450.9 837.9,1450.7 838.4,1450.4C838.9,1450.1 839.4,1449.9 839.9,1449.6C840.4,1449.4 840.9,1449.1 841.4,1448.9C841.9,1448.6 842.4,1448.4 842.9,1448.2C843.4,1447.9 843.9,1447.7 844.4,1447.5C844.9,1447.3 845.4,1447.1 845.9,1446.9C846.4,1446.7 846.9,1446.5 847.4,1446.3C847.9,1446.2 848.4,1446.0 848.9,1445.8C849.4,1445.7 849.9,1445.5 850.4,1445.4C850.9,1445.3 851.4,1445.2 851.9,1445.1C852.4,1444.9 852.9,1444.8 853.4,1444.8C853.9,1444.7 854.4,1444.6 854.9,1444.5C855.4,1444.5 855.9,1444.4 856.4,1444.4C856.9,1444.3 857.4,1444.3 857.9,1444.3C858.4,1444.2 858.9,1444.2 859.4,1444.2C860.0,1444.2 860.5,1444.2 861.0,1444.2C861.5,1444.3 862.0,1444.3 862.5,1444.3C863.0,1444.4 863.5,1444.4 864.0,1444.4C864.5,1444.5 865.0,1444.5 865.5,1444.6C866.0,1444.7 866.5,1444.7 867.0,1444.8C867.5,1444.8 868.0,1444.9 868.5,1445.0C869.0,1445.0 869.5,1445.1 870.0,1445.2C870.5,1445.3 871.0,1445.3 871.5,1445.4C872.0,1445.5 872.5,1445.6 873.0,1445.7C873.5,1445.7 874.0,1445.8 874.5,1445.9C875.0,1446.0 875.5,1446.1 876.0,1446.3C876.5,1446.4 877.0,1446.5 877.5,1446.6C878.0,1446.7 878.5,1446.9 879.0,1447.0C879.5,1447.1 880.0,1447.3 880.5,1447.4C881.0,1447.6 881.5,1447.7 882.0,1447.9C882.5,1448.1 883.0,1448.2 883.5,1448.4C884.0,1448.6 884.5,1448.8 885.0,1449.0C885.5,1449.2 886.0,1449.4 886.5,1449.6C887.0,1449.8 887.5,1450.0 888.0,1450.3C888.5,1450.5 889.0,1450.7 889.5,1451.0C890.0,1451.2 890.5,1451.5 891.0,1451.8C891.5,1452.0 892.0,1452.3 892.5,1452.6C893.0,1452.9 893.5,1453.2 894.0,1453.5C894.5,1453.8 895.0,1454.1 895.5,1454.4C896.0,1454.8 896.6,1455.1 897.1,1455.4C897.6,1455.8 898.1,1456.1 898.6,1456.5C899.1,1456.8 899.6,1457.2 900.1,1457.6C900.6,1457.9 901.1,1458.3 901.6,1458.7C902.1,1459.1 902.6,1459.5 903.1,1459.9C903.6,1460.3 904.1,1460.7 904.6,1461.2C905.1,1461.6 905.6,1462.0 906.1,1462.5C906.6,1462.9 907.1,1463.4 907.6,1463.8C908.1,1464.3 908.6,1464.7 909.1,1465.2C909.6,1465.7 910.1,1466.2 910.6,1466.7C911.1,1467.2 911.6,1467.7 912.1,1468.2C912.6,1468.8 913.1,1469.3 913.6,1469.9C914.1,1470.4 914.6,1471.0 915.1,1471.6C915.6,1472.2 916.1,1472.8 916.6,1473.4C917.1,1474.0 917.6,1474.6 918.1,1475.3C918.6,1475.9 919.1,1476.6 919.6,1477.3C920.1,1477.9 920.6,1478.6 921.1,1479.3C921.6,1480.0 922.1,1480.8 922.6,1481.5C923.1,1482.2 923.6,1482.9 924.1,1483.7C924.6,1484.4 925.1,1485.1 925.6,1485.9C926.1,1486.6 926.6,1487.4 927.1,1488.1C927.6,1488.9 928.1,1489.6 928.6,1490.4C929.1,1491.1 929.6,1491.9 930.1,1492.6C930.6,1493.4 931.1,1494.2 931.6,1494.9C932.1,1495.7 932.7,1496.5 933.2,1497.2C933.7,1498.0 934.2,1498.7 934.7,1499.5C935.2,1500.2 935.7,1501.0 936.2,1501.7C936.7,1502.5 937.2,1503.2 937.7,1504.0C938.2,1504.7 938.7,1505.5 939.2,1506.2C939.7,1506.9 940.2,1507.6 940.7,1508.4C941.2,1509.1 941.7,1509.8 942.2,1510.5C942.7,1511.2 943.2,1511.9 943.7,1512.6C944.2,1513.3 944.7,1514.0 945.2,1514.7C945.7,1515.4 946.2,1516.1 946.7,1516.8C947.2,1517.4 947.7,1518.1 948.2,1518.8C948.7,1519.4 949.2,1520.1 949.7,1520.8C950.2,1521.4 950.7,1522.1 951.2,1522.7C951.7,1523.4 952.2,1524.0 952.7,1524.6C953.2,1525.3 953.7,1525.9 954.2,1526.5C954.7,1527.1 955.2,1527.8 955.7,1528.4C956.2,1529.0 956.7,1529.6 957.2,1530.2C957.7,1530.8 958.2,1531.4 958.7,1532.0C959.2,1532.6 959.7,1533.1 960.2,1533.7C960.7,1534.3 961.2,1534.9 961.7,1535.4C962.2,1536.0 962.7,1536.5 963.2,1537.1C963.7,1537.6 964.2,1538.2 964.7,1538.7C965.2,1539.2 965.7,1539.7 966.2,1540.2C966.7,1540.8 967.2,1541.3 967.7,1541.7C968.2,1542.2 968.7,1542.7 969.3,1543.2C969.8,1543.6 970.3,1544.1 970.8,1544.5C971.3,1545.0 971.8,1545.4 972.3,1545.9C972.8,1546.3 973.3,1546.7 973.8,1547.1C974.3,1547.5 974.8,1547.9 975.3,1548.3C975.8,1548.7 976.3,1549.1 976.8,1549.5C977.3,1549.9 977.8,1550.2 978.3,1550.6C978.8,1551.0 979.3,1551.3 979.8,1551.7C980.3,1552.0 980.8,1552.3 981.3,1552.7C981.8,1553.0 982.3,1553.3 982.8,1553.7C983.3,1554.0 983.8,1554.3 984.3,1554.6C984.8,1555.0 985.3,1555.3 985.8,1555.6C986.3,1555.9 986.8,1556.2 987.3,1556.5C987.8,1556.8 988.3,1557.0 988.8,1557.3C989.3,1557.6 989.8,1557.9 990.3,1558.2C990.8,1558.4 991.3,1558.7 991.8,1559.0C992.3,1559.2 992.8,1559.5 993.3,1559.7C993.8,1560.0 994.3,1560.2 994.8,1560.4C995.3,1560.7 995.8,1560.9 996.3,1561.1C996.8,1561.3 997.3,1561.6 997.8,1561.8C998.3,1562.0 998.8,1562.2 999.3,1562.4C999.8,1562.6 1000.3,1562.8 1000.8,1563.0C1001.3,1563.2 1001.8,1563.4 1002.3,1563.5C1002.8,1563.7 1003.3,1563.9 1003.8,1564.1C1004.3,1564.2 1004.8,1564.4 1005.3,1564.6C1005.9,1564.8 1006.4,1564.9 1006.9,1565.1C1007.4,1565.2 1007.9,1565.4 1008.4,1565.5C1008.9,1565.7 1009.4,1565.9 1009.9,1566.0C1010.4,1566.1 1010.9,1566.3 1011.4,1566.4C1011.9,1566.6 1012.4,1566.7 1012.9,1566.8C1013.4,1567.0 1013.9,1567.1 1014.4,1567.2C1014.9,1567.4 1015.4,1567.5 1015.9,1567.6C1016.4,1567.7 1016.9,1567.9 1017.4,1568.0C1017.9,1568.1 1018.4,1568.2 1018.9,1568.3C1019.4,1568.4 1019.9,1568.5 1020.4,1568.6C1020.9,1568.8 1021.4,1568.9 1021.9,1569.0C1022.4,1569.1 1022.9,1569.2 1023.4,1569.3C1023.9,1569.4 1024.4,1569.5 1024.9,1569.6C1025.4,1569.6 1025.9,1569.7 1026.4,1569.8C1026.9,1569.9 1027.4,1570.0 1027.9,1570.1C1028.4,1570.2 1028.9,1570.2 1029.4,1570.3C1029.9,1570.4 1030.4,1570.5 1030.9,1570.5C1031.4,1570.6 1031.9,1570.7 1032.4,1570.7C1032.9,1570.8 1033.4,1570.8 1033.9,1570.9C1034.4,1571.0 1034.9,1571.0 1035.4,1571.1C1035.9,1571.1 1036.4,1571.2 1036.9,1571.2C1037.4,1571.2 1037.9,1571.3 1038.4,1571.3C1038.9,1571.4 1039.4,1571.4 1039.9,1571.5C1040.4,1571.5 1040.9,1571.5 1041.4,1571.6C1042.0,1571.6 1042.5,1571.6 1043.0,1571.7C1043.5,1571.7 1044.0,1571.7 1044.5,1571.8C1045.0,1571.8 1045.5,1571.8 1046.0,1571.9C1046.5,1571.9 1047.0,1571.9 1047.5,1572.0C1048.0,1572.0 1048.5,1572.0 1049.0,1572.0C1049.5,1572.1 1050.0,1572.1 1050.5,1572.1C1051.0,1572.1 1051.5,1572.2 1052.0,1572.2C1052.5,1572.2 1053.0,1572.2 1053.5,1572.3C1054.0,1572.3 1054.5,1572.3 1055.0,1572.3C1055.5,1572.3 1056.0,1572.4 1056.5,1572.4C1057.0,1572.4 1057.5,1572.4 1058.0,1572.4C1058.5,1572.4 1059.0,1572.5 1059.5,1572.5C1060.0,1572.5 1060.5,1572.5 1061.0,1572.5C1061.5,1572.5 1062.0,1572.5 1062.5,1572.6C1063.0,1572.6 1063.5,1572.6 1064.0,1572.6C1064.5,1572.6 1065.0,1572.6 1065.5,1572.6C1066.0,1572.6 1066.5,1572.6 1067.0,1572.6C1067.5,1572.7 1068.0,1572.7 1068.5,1572.7C1069.0,1572.7 1069.5,1572.7 1070.0,1572.7C1070.5,1572.7 1071.0,1572.7 1071.5,1572.7C1072.0,1572.7 1072.5,1572.7 1073.0,1572.7C1073.5,1572.7 1074.0,1572.7 1074.5,1572.7C1075.0,1572.7 1075.6,1572.7 1076.0,1572.7C1076.5,1572.7 1076.9,1572.7 1077.0,1572.7" stroke="#1e1e1e" stroke-width="3.45" fill="none" stroke-linejoin="round" stroke-linecap="round"/>
</g>
<text class="tk" x="109.7" y="674.0" text-anchor="end" textLength="7.7" lengthAdjust="spacingAndGlyphs">0</text>
<text class="tk" x="109.7" y="630.1" text-anchor="end" textLength="15.3" lengthAdjust="spacingAndGlyphs">20</text>
<text class="tk" x="109.7" y="586.2" text-anchor="end" textLength="15.3" lengthAdjust="spacingAndGlyphs">40</text>
<text class="tk" x="109.7" y="542.4" text-anchor="end" textLength="15.3" lengthAdjust="spacingAndGlyphs">60</text>
<text class="tk" x="109.7" y="498.5" text-anchor="end" textLength="15.3" lengthAdjust="spacingAndGlyphs">80</text>
<text class="tk" x="109.7" y="454.6" text-anchor="end" textLength="23.0" lengthAdjust="spacingAndGlyphs">100</text>
<text class="tk" x="121.5" y="691.7" text-anchor="middle" textLength="24.0" lengthAdjust="spacingAndGlyphs">400</text>
<text class="tk" x="171.7" y="691.7" text-anchor="middle" textLength="24.0" lengthAdjust="spacingAndGlyphs">450</text>
<text class="tk" x="221.8" y="691.7" text-anchor="middle" textLength="24.0" lengthAdjust="spacingAndGlyphs">500</text>
<text class="tk" x="272.0" y="691.7" text-anchor="middle" textLength="24.0" lengthAdjust="spacingAndGlyphs">550</text>
<text class="tk" x="322.2" y="691.7" text-anchor="middle" textLength="24.0" lengthAdjust="spacingAndGlyphs">600</text>
<text class="tk" x="372.4" y="691.7" text-anchor="middle" textLength="24.0" lengthAdjust="spacingAndGlyphs">650</text>
<text class="tk" x="422.5" y="691.7" text-anchor="middle" textLength="24.0" lengthAdjust="spacingAndGlyphs">700</text>
<text class="tk" x="472.7" y="691.7" text-anchor="middle" textLength="24.0" lengthAdjust="spacingAndGlyphs">750</text>
<text class="tk" x="522.9" y="691.7" text-anchor="middle" textLength="24.0" lengthAdjust="spacingAndGlyphs">800</text>
<text class="tk" x="684.2" y="674.0" text-anchor="end" textLength="7.7" lengthAdjust="spacingAndGlyphs">0</text>
<text class="tk" x="684.2" y="630.1" text-anchor="end" textLength="15.3" lengthAdjust="spacingAndGlyphs">20</text>
<text class="tk" x="684.2" y="586.2" text-anchor="end" textLength="15.3" lengthAdjust="spacingAndGlyphs">40</text>
<text class="tk" x="684.2" y="542.4" text-anchor="end" textLength="15.3" lengthAdjust="spacingAndGlyphs">60</text>
<text class="tk" x="684.2" y="498.5" text-anchor="end" textLength="15.3" lengthAdjust="spacingAndGlyphs">80</text>
<text class="tk" x="684.2" y="454.6" text-anchor="end" textLength="23.0" lengthAdjust="spacingAndGlyphs">100</text>
<text class="tk" x="695.6" y="691.7" text-anchor="middle" textLength="24.0" lengthAdjust="spacingAndGlyphs">400</text>
<text class="tk" x="745.8" y="691.7" text-anchor="middle" textLength="24.0" lengthAdjust="spacingAndGlyphs">450</text>
<text class="tk" x="796.0" y="691.7" text-anchor="middle" textLength="24.0" lengthAdjust="spacingAndGlyphs">500</text>
<text class="tk" x="846.2" y="691.7" text-anchor="middle" textLength="24.0" lengthAdjust="spacingAndGlyphs">550</text>
<text class="tk" x="896.4" y="691.7" text-anchor="middle" textLength="24.0" lengthAdjust="spacingAndGlyphs">600</text>
<text class="tk" x="946.6" y="691.7" text-anchor="middle" textLength="24.0" lengthAdjust="spacingAndGlyphs">650</text>
<text class="tk" x="996.8" y="691.7" text-anchor="middle" textLength="24.0" lengthAdjust="spacingAndGlyphs">700</text>
<text class="tk" x="1047.0" y="691.7" text-anchor="middle" textLength="24.0" lengthAdjust="spacingAndGlyphs">750</text>
<text class="tk" x="1097.2" y="691.7" text-anchor="middle" textLength="24.0" lengthAdjust="spacingAndGlyphs">800</text>
<text class="tk" x="109.6" y="1127.7" text-anchor="end" textLength="7.7" lengthAdjust="spacingAndGlyphs">0</text>
<text class="tk" x="109.6" y="1083.8" text-anchor="end" textLength="15.3" lengthAdjust="spacingAndGlyphs">20</text>
<text class="tk" x="109.6" y="1039.9" text-anchor="end" textLength="15.3" lengthAdjust="spacingAndGlyphs">40</text>
<text class="tk" x="109.6" y="995.9" text-anchor="end" textLength="15.3" lengthAdjust="spacingAndGlyphs">60</text>
<text class="tk" x="109.6" y="952.0" text-anchor="end" textLength="15.3" lengthAdjust="spacingAndGlyphs">80</text>
<text class="tk" x="109.6" y="908.1" text-anchor="end" textLength="23.0" lengthAdjust="spacingAndGlyphs">100</text>
<text class="tk" x="121.4" y="1145.4" text-anchor="middle" textLength="24.0" lengthAdjust="spacingAndGlyphs">400</text>
<text class="tk" x="171.5" y="1145.4" text-anchor="middle" textLength="24.0" lengthAdjust="spacingAndGlyphs">450</text>
<text class="tk" x="221.6" y="1145.4" text-anchor="middle" textLength="24.0" lengthAdjust="spacingAndGlyphs">500</text>
<text class="tk" x="271.7" y="1145.4" text-anchor="middle" textLength="24.0" lengthAdjust="spacingAndGlyphs">550</text>
<text class="tk" x="321.8" y="1145.4" text-anchor="middle" textLength="24.0" lengthAdjust="spacingAndGlyphs">600</text>
<text class="tk" x="371.9" y="1145.4" text-anchor="middle" textLength="24.0" lengthAdjust="spacingAndGlyphs">650</text>
<text class="tk" x="422.0" y="1145.4" text-anchor="middle" textLength="24.0" lengthAdjust="spacingAndGlyphs">700</text>
<text class="tk" x="472.1" y="1145.4" text-anchor="middle" textLength="24.0" lengthAdjust="spacingAndGlyphs">750</text>
<text class="tk" x="522.2" y="1145.4" text-anchor="middle" textLength="24.0" lengthAdjust="spacingAndGlyphs">800</text>
<text class="tk" x="684.2" y="1127.7" text-anchor="end" textLength="7.7" lengthAdjust="spacingAndGlyphs">0</text>
<text class="tk" x="684.2" y="1083.8" text-anchor="end" textLength="15.3" lengthAdjust="spacingAndGlyphs">20</text>
<text class="tk" x="684.2" y="1039.9" text-anchor="end" textLength="15.3" lengthAdjust="spacingAndGlyphs">40</text>
<text class="tk" x="684.2" y="995.9" text-anchor="end" textLength="15.3" lengthAdjust="spacingAndGlyphs">60</text>
<text class="tk" x="684.2" y="952.0" text-anchor="end" textLength="15.3" lengthAdjust="spacingAndGlyphs">80</text>
<text class="tk" x="684.2" y="908.1" text-anchor="end" textLength="23.0" lengthAdjust="spacingAndGlyphs">100</text>
<text class="tk" x="695.6" y="1145.4" text-anchor="middle" textLength="24.0" lengthAdjust="spacingAndGlyphs">400</text>
<text class="tk" x="745.8" y="1145.4" text-anchor="middle" textLength="24.0" lengthAdjust="spacingAndGlyphs">450</text>
<text class="tk" x="796.0" y="1145.4" text-anchor="middle" textLength="24.0" lengthAdjust="spacingAndGlyphs">500</text>
<text class="tk" x="846.2" y="1145.4" text-anchor="middle" textLength="24.0" lengthAdjust="spacingAndGlyphs">550</text>
<text class="tk" x="896.4" y="1145.4" text-anchor="middle" textLength="24.0" lengthAdjust="spacingAndGlyphs">600</text>
<text class="tk" x="946.6" y="1145.4" text-anchor="middle" textLength="24.0" lengthAdjust="spacingAndGlyphs">650</text>
<text class="tk" x="996.8" y="1145.4" text-anchor="middle" textLength="24.0" lengthAdjust="spacingAndGlyphs">700</text>
<text class="tk" x="1047.0" y="1145.4" text-anchor="middle" textLength="24.0" lengthAdjust="spacingAndGlyphs">750</text>
<text class="tk" x="1097.2" y="1145.4" text-anchor="middle" textLength="24.0" lengthAdjust="spacingAndGlyphs">800</text>
<text class="tk" x="109.6" y="1577.5" text-anchor="end" textLength="7.7" lengthAdjust="spacingAndGlyphs">0</text>
<text class="tk" x="109.6" y="1533.6" text-anchor="end" textLength="15.3" lengthAdjust="spacingAndGlyphs">20</text>
<text class="tk" x="109.6" y="1489.6" text-anchor="end" textLength="15.3" lengthAdjust="spacingAndGlyphs">40</text>
<text class="tk" x="109.6" y="1445.7" text-anchor="end" textLength="15.3" lengthAdjust="spacingAndGlyphs">60</text>
<text class="tk" x="109.6" y="1401.7" text-anchor="end" textLength="15.3" lengthAdjust="spacingAndGlyphs">80</text>
<text class="tk" x="109.6" y="1357.8" text-anchor="end" textLength="23.0" lengthAdjust="spacingAndGlyphs">100</text>
<text class="tk" x="121.4" y="1595.2" text-anchor="middle" textLength="24.0" lengthAdjust="spacingAndGlyphs">400</text>
<text class="tk" x="171.6" y="1595.2" text-anchor="middle" textLength="24.0" lengthAdjust="spacingAndGlyphs">450</text>
<text class="tk" x="221.8" y="1595.2" text-anchor="middle" textLength="24.0" lengthAdjust="spacingAndGlyphs">500</text>
<text class="tk" x="272.0" y="1595.2" text-anchor="middle" textLength="24.0" lengthAdjust="spacingAndGlyphs">550</text>
<text class="tk" x="322.2" y="1595.2" text-anchor="middle" textLength="24.0" lengthAdjust="spacingAndGlyphs">600</text>
<text class="tk" x="372.5" y="1595.2" text-anchor="middle" textLength="24.0" lengthAdjust="spacingAndGlyphs">650</text>
<text class="tk" x="422.7" y="1595.2" text-anchor="middle" textLength="24.0" lengthAdjust="spacingAndGlyphs">700</text>
<text class="tk" x="472.9" y="1595.2" text-anchor="middle" textLength="24.0" lengthAdjust="spacingAndGlyphs">750</text>
<text class="tk" x="523.1" y="1595.2" text-anchor="middle" textLength="24.0" lengthAdjust="spacingAndGlyphs">800</text>
<text class="tk" x="684.2" y="1577.5" text-anchor="end" textLength="7.7" lengthAdjust="spacingAndGlyphs">0</text>
<text class="tk" x="684.2" y="1533.6" text-anchor="end" textLength="15.3" lengthAdjust="spacingAndGlyphs">20</text>
<text class="tk" x="684.2" y="1489.6" text-anchor="end" textLength="15.3" lengthAdjust="spacingAndGlyphs">40</text>
<text class="tk" x="684.2" y="1445.7" text-anchor="end" textLength="15.3" lengthAdjust="spacingAndGlyphs">60</text>
<text class="tk" x="684.2" y="1401.7" text-anchor="end" textLength="15.3" lengthAdjust="spacingAndGlyphs">80</text>
<text class="tk" x="684.2" y="1357.8" text-anchor="end" textLength="23.0" lengthAdjust="spacingAndGlyphs">100</text>
<text class="tk" x="695.6" y="1595.2" text-anchor="middle" textLength="24.0" lengthAdjust="spacingAndGlyphs">400</text>
<text class="tk" x="745.8" y="1595.2" text-anchor="middle" textLength="24.0" lengthAdjust="spacingAndGlyphs">450</text>
<text class="tk" x="796.0" y="1595.2" text-anchor="middle" textLength="24.0" lengthAdjust="spacingAndGlyphs">500</text>
<text class="tk" x="846.2" y="1595.2" text-anchor="middle" textLength="24.0" lengthAdjust="spacingAndGlyphs">550</text>
<text class="tk" x="896.3" y="1595.2" text-anchor="middle" textLength="24.0" lengthAdjust="spacingAndGlyphs">600</text>
<text class="tk" x="946.5" y="1595.2" text-anchor="middle" textLength="24.0" lengthAdjust="spacingAndGlyphs">650</text>
<text class="tk" x="996.7" y="1595.2" text-anchor="middle" textLength="24.0" lengthAdjust="spacingAndGlyphs">700</text>
<text class="tk" x="1046.9" y="1595.2" text-anchor="middle" textLength="24.0" lengthAdjust="spacingAndGlyphs">750</text>
<text class="tk" x="1097.1" y="1595.2" text-anchor="middle" textLength="24.0" lengthAdjust="spacingAndGlyphs">800</text>
<text class="ti" x="291.1" y="420.8" text-anchor="middle" textLength="283.6" lengthAdjust="spacingAndGlyphs">Relative Intensity vs. Wavelength</text>
<text class="ax" x="292.0" y="717.7" text-anchor="middle" textLength="128" lengthAdjust="spacingAndGlyphs">Wavelength (nm)</text>
<text class="ay" transform="translate(66.0,558.2) rotate(-90)" text-anchor="middle" textLength="232.5" lengthAdjust="spacingAndGlyphs">Relative Emission Intensity (%)</text>
<text class="ti" x="865.4" y="420.8" text-anchor="middle" textLength="283.6" lengthAdjust="spacingAndGlyphs">Relative Intensity vs. Wavelength</text>
<text class="ax" x="866.3" y="717.7" text-anchor="middle" textLength="128" lengthAdjust="spacingAndGlyphs">Wavelength (nm)</text>
<text class="ay" transform="translate(640.3,558.2) rotate(-90)" text-anchor="middle" textLength="232.5" lengthAdjust="spacingAndGlyphs">Relative Emission Intensity (%)</text>
<text class="ti" x="291.1" y="874.3" text-anchor="middle" textLength="283.6" lengthAdjust="spacingAndGlyphs">Relative Intensity vs. Wavelength</text>
<text class="ax" x="292.0" y="1171.4" text-anchor="middle" textLength="128" lengthAdjust="spacingAndGlyphs">Wavelength (nm)</text>
<text class="ay" transform="translate(66.0,1011.9) rotate(-90)" text-anchor="middle" textLength="232.5" lengthAdjust="spacingAndGlyphs">Relative Emission Intensity (%)</text>
<text class="cap" x="38.2" y="806.6" textLength="132.5" lengthAdjust="spacingAndGlyphs">CCT: 3500 K (80 CRI)</text>
<text class="ti" x="865.4" y="874.3" text-anchor="middle" textLength="283.6" lengthAdjust="spacingAndGlyphs">Relative Intensity vs. Wavelength</text>
<text class="ax" x="866.3" y="1171.4" text-anchor="middle" textLength="128" lengthAdjust="spacingAndGlyphs">Wavelength (nm)</text>
<text class="ay" transform="translate(640.3,1011.9) rotate(-90)" text-anchor="middle" textLength="232.5" lengthAdjust="spacingAndGlyphs">Relative Emission Intensity (%)</text>
<text class="cap" x="612.5" y="806.6" textLength="132.5" lengthAdjust="spacingAndGlyphs">CCT: 4000 K (80 CRI)</text>
<text class="ti" x="291.1" y="1324.0" text-anchor="middle" textLength="283.6" lengthAdjust="spacingAndGlyphs">Relative Intensity vs. Wavelength</text>
<text class="ax" x="292.0" y="1621.2" text-anchor="middle" textLength="128" lengthAdjust="spacingAndGlyphs">Wavelength (nm)</text>
<text class="ay" transform="translate(66.0,1461.6) rotate(-90)" text-anchor="middle" textLength="232.5" lengthAdjust="spacingAndGlyphs">Relative Emission Intensity (%)</text>
<text class="cap" x="38.2" y="1256.0" textLength="132.5" lengthAdjust="spacingAndGlyphs">CCT: 5000 K (80 CRI)</text>
<text class="ti" x="865.4" y="1324.0" text-anchor="middle" textLength="283.6" lengthAdjust="spacingAndGlyphs">Relative Intensity vs. Wavelength</text>
<text class="ax" x="866.3" y="1621.2" text-anchor="middle" textLength="128" lengthAdjust="spacingAndGlyphs">Wavelength (nm)</text>
<text class="ay" transform="translate(640.3,1461.6) rotate(-90)" text-anchor="middle" textLength="232.5" lengthAdjust="spacingAndGlyphs">Relative Emission Intensity (%)</text>
<text class="cap" x="612.5" y="1256.0" textLength="132.5" lengthAdjust="spacingAndGlyphs">CCT: 5700 K (80 CRI)</text>
</g>
</svg>
<div id="edge"></div>
</div>
</body>
</html>
